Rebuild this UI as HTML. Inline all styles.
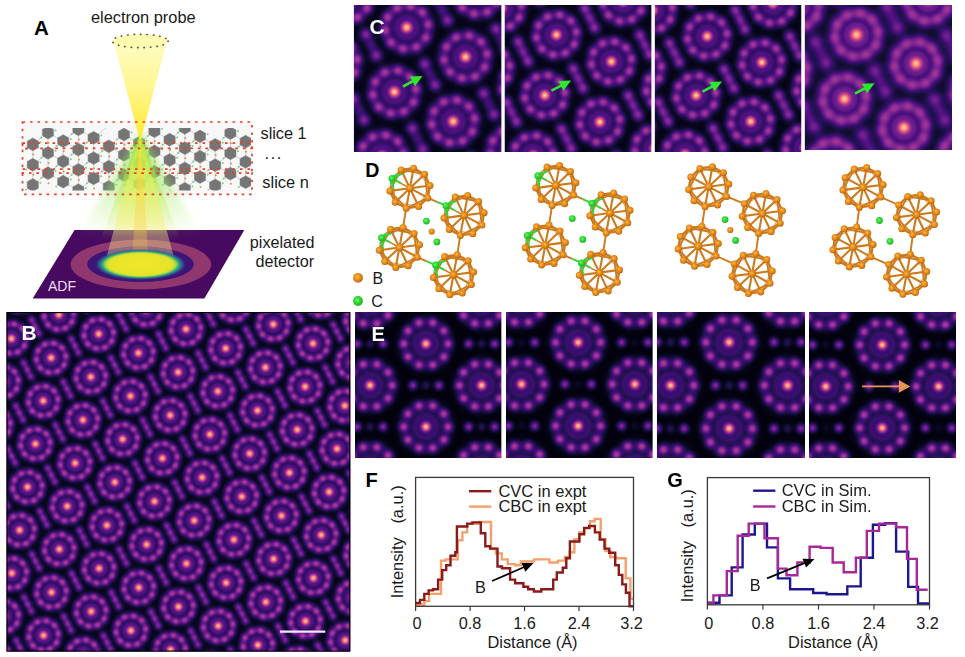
<!DOCTYPE html>
<html><head><meta charset="utf-8"><title>figure</title>
<style>
html,body{margin:0;padding:0;background:#fff;}
svg{display:block}
text{font-family:"Liberation Sans",sans-serif;}
</style></head><body>
<svg width="965" height="657" viewBox="0 0 965 657">
<defs>
<filter id="mg" color-interpolation-filters="sRGB" x="0" y="0" width="100%" height="100%" filterUnits="objectBoundingBox"><feComponentTransfer><feFuncR type="table" tableValues="0.001 0.008 0.019 0.040 0.061 0.088 0.113 0.147 0.178 0.219 0.252 0.285 0.323 0.354 0.390 0.421 0.457 0.488 0.525 0.557 0.588 0.626 0.658 0.697 0.729 0.767 0.799 0.835 0.863 0.890 0.918 0.937 0.956 0.968 0.978 0.985 0.990 0.993 0.995 0.997 0.997 0.997 0.996 0.995 0.993 0.991 0.989 0.987"/><feFuncG type="table" tableValues="0.000 0.006 0.016 0.031 0.045 0.058 0.065 0.069 0.067 0.061 0.059 0.063 0.074 0.085 0.100 0.115 0.132 0.146 0.162 0.176 0.188 0.203 0.216 0.231 0.243 0.257 0.271 0.289 0.307 0.329 0.359 0.386 0.421 0.451 0.490 0.522 0.565 0.602 0.639 0.683 0.719 0.762 0.798 0.841 0.877 0.920 0.956 0.991"/><feFuncB type="table" tableValues="0.014 0.045 0.085 0.134 0.176 0.230 0.277 0.334 0.379 0.425 0.458 0.484 0.506 0.522 0.536 0.546 0.556 0.564 0.570 0.576 0.580 0.582 0.577 0.567 0.558 0.544 0.531 0.514 0.499 0.483 0.466 0.455 0.447 0.446 0.452 0.463 0.481 0.501 0.523 0.553 0.580 0.615 0.646 0.672 0.688 0.712 0.731 0.750"/></feComponentTransfer></filter>
<radialGradient id="g"><stop offset="0.000" stop-color="#fff" stop-opacity="1.000"/><stop offset="0.083" stop-color="#fff" stop-opacity="0.969"/><stop offset="0.167" stop-color="#fff" stop-opacity="0.882"/><stop offset="0.250" stop-color="#fff" stop-opacity="0.755"/><stop offset="0.333" stop-color="#fff" stop-opacity="0.607"/><stop offset="0.417" stop-color="#fff" stop-opacity="0.458"/><stop offset="0.500" stop-color="#fff" stop-opacity="0.325"/><stop offset="0.583" stop-color="#fff" stop-opacity="0.216"/><stop offset="0.667" stop-color="#fff" stop-opacity="0.135"/><stop offset="0.750" stop-color="#fff" stop-opacity="0.080"/><stop offset="0.833" stop-color="#fff" stop-opacity="0.044"/><stop offset="0.917" stop-color="#fff" stop-opacity="0.023"/><stop offset="1.000" stop-color="#fff" stop-opacity="0.000"/></radialGradient>
<radialGradient id="rg"><stop offset="0.000" stop-color="#fff" stop-opacity="0.000"/><stop offset="0.042" stop-color="#fff" stop-opacity="0.000"/><stop offset="0.083" stop-color="#fff" stop-opacity="0.000"/><stop offset="0.125" stop-color="#fff" stop-opacity="0.000"/><stop offset="0.167" stop-color="#fff" stop-opacity="0.001"/><stop offset="0.208" stop-color="#fff" stop-opacity="0.002"/><stop offset="0.250" stop-color="#fff" stop-opacity="0.006"/><stop offset="0.292" stop-color="#fff" stop-opacity="0.017"/><stop offset="0.333" stop-color="#fff" stop-opacity="0.043"/><stop offset="0.375" stop-color="#fff" stop-opacity="0.096"/><stop offset="0.417" stop-color="#fff" stop-opacity="0.191"/><stop offset="0.458" stop-color="#fff" stop-opacity="0.337"/><stop offset="0.500" stop-color="#fff" stop-opacity="0.527"/><stop offset="0.542" stop-color="#fff" stop-opacity="0.734"/><stop offset="0.583" stop-color="#fff" stop-opacity="0.907"/><stop offset="0.625" stop-color="#fff" stop-opacity="0.995"/><stop offset="0.667" stop-color="#fff" stop-opacity="0.970"/><stop offset="0.708" stop-color="#fff" stop-opacity="0.840"/><stop offset="0.750" stop-color="#fff" stop-opacity="0.646"/><stop offset="0.792" stop-color="#fff" stop-opacity="0.442"/><stop offset="0.833" stop-color="#fff" stop-opacity="0.268"/><stop offset="0.875" stop-color="#fff" stop-opacity="0.144"/><stop offset="0.917" stop-color="#fff" stop-opacity="0.069"/><stop offset="0.958" stop-color="#fff" stop-opacity="0.029"/><stop offset="1.000" stop-color="#fff" stop-opacity="0.000"/></radialGradient>
<g id="kB"><circle cx="0" cy="0" r="22.5" fill="url(#g)" opacity="0.10"/><circle cx="0" cy="0" r="23.2" fill="url(#rg)" opacity="0.21"/><circle cx="0" cy="0" r="11.6" fill="url(#rg)" opacity="0.12"/><circle cx="2.8" cy="-14.5" r="6.6" fill="url(#g)" opacity="0.31"/><circle cx="10.8" cy="-10.1" r="6.6" fill="url(#g)" opacity="0.31"/><circle cx="14.7" cy="-1.8" r="6.6" fill="url(#g)" opacity="0.31"/><circle cx="12.9" cy="7.2" r="6.6" fill="url(#g)" opacity="0.31"/><circle cx="6.3" cy="13.4" r="6.6" fill="url(#g)" opacity="0.31"/><circle cx="-2.8" cy="14.5" r="6.6" fill="url(#g)" opacity="0.31"/><circle cx="-10.8" cy="10.1" r="6.6" fill="url(#g)" opacity="0.31"/><circle cx="-14.7" cy="1.8" r="6.6" fill="url(#g)" opacity="0.31"/><circle cx="-12.9" cy="-7.2" r="6.6" fill="url(#g)" opacity="0.31"/><circle cx="-6.3" cy="-13.4" r="6.6" fill="url(#g)" opacity="0.31"/><circle cx="0" cy="0" r="8.7" fill="url(#g)" opacity="0.86"/></g>
<g id="hB"><ellipse cx="0" cy="0" rx="19.9" ry="6.6" fill="url(#g)" opacity="0.18" transform="translate(0 0) rotate(62.9)"/><circle cx="-3.6" cy="-6.9" r="7.8" fill="url(#g)" opacity="0.27"/><circle cx="3.6" cy="6.9" r="7.8" fill="url(#g)" opacity="0.27"/><circle cx="0" cy="0" r="7.8" fill="url(#g)" opacity="0.23"/></g>
<g id="kC0"><circle cx="0" cy="0" r="35.9" fill="url(#g)" opacity="0.12"/><circle cx="0" cy="0" r="34" fill="url(#rg)" opacity="0.14"/><circle cx="0" cy="0" r="17" fill="url(#rg)" opacity="0.13"/><circle cx="3.8" cy="-21.3" r="10.3" fill="url(#g)" opacity="0.34"/><circle cx="15.6" cy="-15.1" r="10.3" fill="url(#g)" opacity="0.34"/><circle cx="21.5" cy="-3" r="10.3" fill="url(#g)" opacity="0.34"/><circle cx="19.1" cy="10.2" r="10.3" fill="url(#g)" opacity="0.34"/><circle cx="9.5" cy="19.5" r="10.3" fill="url(#g)" opacity="0.34"/><circle cx="-3.8" cy="21.3" r="10.3" fill="url(#g)" opacity="0.34"/><circle cx="-15.6" cy="15.1" r="10.3" fill="url(#g)" opacity="0.34"/><circle cx="-21.5" cy="3" r="10.3" fill="url(#g)" opacity="0.34"/><circle cx="-19.1" cy="-10.2" r="10.3" fill="url(#g)" opacity="0.34"/><circle cx="-9.5" cy="-19.5" r="10.3" fill="url(#g)" opacity="0.34"/><circle cx="0" cy="0" r="11.2" fill="url(#g)" opacity="0.88"/></g>
<g id="hC0"><ellipse cx="0" cy="0" rx="30.1" ry="10.3" fill="url(#g)" opacity="0.08" transform="translate(0 0) rotate(63.7)"/><circle cx="-5.2" cy="-10.6" r="12.1" fill="url(#g)" opacity="0.32"/><circle cx="5.2" cy="10.6" r="12.1" fill="url(#g)" opacity="0.32"/><circle cx="0" cy="0" r="12.1" fill="url(#g)" opacity="0.12"/></g>
<g id="kC1"><circle cx="0" cy="0" r="33.4" fill="url(#g)" opacity="0.12"/><circle cx="0" cy="0" r="31.7" fill="url(#rg)" opacity="0.14"/><circle cx="0" cy="0" r="15.8" fill="url(#rg)" opacity="0.13"/><circle cx="3.5" cy="-19.9" r="9.6" fill="url(#g)" opacity="0.34"/><circle cx="14.5" cy="-14" r="9.6" fill="url(#g)" opacity="0.34"/><circle cx="20" cy="-2.8" r="9.6" fill="url(#g)" opacity="0.34"/><circle cx="17.8" cy="9.5" r="9.6" fill="url(#g)" opacity="0.34"/><circle cx="8.8" cy="18.1" r="9.6" fill="url(#g)" opacity="0.34"/><circle cx="-3.5" cy="19.9" r="9.6" fill="url(#g)" opacity="0.34"/><circle cx="-14.5" cy="14" r="9.6" fill="url(#g)" opacity="0.34"/><circle cx="-20" cy="2.8" r="9.6" fill="url(#g)" opacity="0.34"/><circle cx="-17.8" cy="-9.5" r="9.6" fill="url(#g)" opacity="0.34"/><circle cx="-8.8" cy="-18.1" r="9.6" fill="url(#g)" opacity="0.34"/><circle cx="0" cy="0" r="10.4" fill="url(#g)" opacity="0.88"/></g>
<g id="hC1"><ellipse cx="0" cy="0" rx="28" ry="9.6" fill="url(#g)" opacity="0.16" transform="translate(0 0) rotate(63.5)"/><circle cx="-4.9" cy="-9.8" r="11.3" fill="url(#g)" opacity="0.32"/><circle cx="4.9" cy="9.8" r="11.3" fill="url(#g)" opacity="0.32"/><circle cx="0" cy="0" r="11.3" fill="url(#g)" opacity="0.20"/></g>
<g id="kC2"><circle cx="0" cy="0" r="33" fill="url(#g)" opacity="0.12"/><circle cx="0" cy="0" r="31.3" fill="url(#rg)" opacity="0.14"/><circle cx="0" cy="0" r="15.7" fill="url(#rg)" opacity="0.13"/><circle cx="3.5" cy="-19.6" r="9.5" fill="url(#g)" opacity="0.34"/><circle cx="14.3" cy="-13.9" r="9.5" fill="url(#g)" opacity="0.34"/><circle cx="19.7" cy="-2.8" r="9.5" fill="url(#g)" opacity="0.34"/><circle cx="17.6" cy="9.4" r="9.5" fill="url(#g)" opacity="0.34"/><circle cx="8.7" cy="17.9" r="9.5" fill="url(#g)" opacity="0.34"/><circle cx="-3.5" cy="19.6" r="9.5" fill="url(#g)" opacity="0.34"/><circle cx="-14.3" cy="13.9" r="9.5" fill="url(#g)" opacity="0.34"/><circle cx="-19.7" cy="2.8" r="9.5" fill="url(#g)" opacity="0.34"/><circle cx="-17.6" cy="-9.4" r="9.5" fill="url(#g)" opacity="0.34"/><circle cx="-8.7" cy="-17.9" r="9.5" fill="url(#g)" opacity="0.34"/><circle cx="0" cy="0" r="10.3" fill="url(#g)" opacity="0.88"/></g>
<g id="hC2"><ellipse cx="0" cy="0" rx="27.7" ry="9.5" fill="url(#g)" opacity="0.16" transform="translate(0 0) rotate(63)"/><circle cx="-4.9" cy="-9.7" r="11.1" fill="url(#g)" opacity="0.32"/><circle cx="4.9" cy="9.7" r="11.1" fill="url(#g)" opacity="0.32"/><circle cx="0" cy="0" r="11.1" fill="url(#g)" opacity="0.22"/></g>
<g id="kC3"><circle cx="0" cy="0" r="36" fill="url(#g)" opacity="0.12"/><circle cx="0" cy="0" r="34.2" fill="url(#rg)" opacity="0.20"/><circle cx="0" cy="0" r="17.1" fill="url(#rg)" opacity="0.13"/><circle cx="3.8" cy="-21.4" r="12.4" fill="url(#g)" opacity="0.24"/><circle cx="15.7" cy="-15.1" r="12.4" fill="url(#g)" opacity="0.24"/><circle cx="21.6" cy="-3" r="12.4" fill="url(#g)" opacity="0.24"/><circle cx="19.2" cy="10.2" r="12.4" fill="url(#g)" opacity="0.24"/><circle cx="9.5" cy="19.6" r="12.4" fill="url(#g)" opacity="0.24"/><circle cx="-3.8" cy="21.4" r="12.4" fill="url(#g)" opacity="0.24"/><circle cx="-15.7" cy="15.1" r="12.4" fill="url(#g)" opacity="0.24"/><circle cx="-21.6" cy="3" r="12.4" fill="url(#g)" opacity="0.24"/><circle cx="-19.2" cy="-10.2" r="12.4" fill="url(#g)" opacity="0.24"/><circle cx="-9.5" cy="-19.6" r="12.4" fill="url(#g)" opacity="0.24"/><circle cx="0" cy="0" r="13.5" fill="url(#g)" opacity="0.86"/></g>
<g id="hC3"><ellipse cx="0" cy="0" rx="30.2" ry="12.4" fill="url(#g)" opacity="0.08" transform="translate(0 0) rotate(62.9)"/><circle cx="-5.4" cy="-10.6" r="14.6" fill="url(#g)" opacity="0.25"/><circle cx="5.4" cy="10.6" r="14.6" fill="url(#g)" opacity="0.25"/><circle cx="0" cy="0" r="14.6" fill="url(#g)" opacity="0.10"/></g>
<g id="kE0"><circle cx="0" cy="0" r="36" fill="url(#g)" opacity="0.17"/><circle cx="0" cy="0" r="34.9" fill="url(#rg)" opacity="0.10"/><circle cx="0" cy="0" r="17.4" fill="url(#rg)" opacity="0.08"/><circle cx="6.9" cy="-21.1" r="9" fill="url(#g)" opacity="0.40"/><circle cx="18" cy="-13" r="9" fill="url(#g)" opacity="0.40"/><circle cx="22.2" cy="-0" r="9" fill="url(#g)" opacity="0.40"/><circle cx="18" cy="13" r="9" fill="url(#g)" opacity="0.40"/><circle cx="6.9" cy="21.1" r="9" fill="url(#g)" opacity="0.40"/><circle cx="-6.9" cy="21.1" r="9" fill="url(#g)" opacity="0.40"/><circle cx="-18" cy="13" r="9" fill="url(#g)" opacity="0.40"/><circle cx="-22.2" cy="0" r="9" fill="url(#g)" opacity="0.40"/><circle cx="-18" cy="-13" r="9" fill="url(#g)" opacity="0.40"/><circle cx="-6.9" cy="-21.1" r="9" fill="url(#g)" opacity="0.40"/><circle cx="0" cy="0" r="8.7" fill="url(#g)" opacity="0.87"/></g>
<g id="hE0"><circle cx="-13" cy="-0" r="9" fill="url(#g)" opacity="0.36"/><circle cx="13" cy="0" r="9" fill="url(#g)" opacity="0.36"/><circle cx="0" cy="0" r="9" fill="url(#g)" opacity="0.13"/></g>
<g id="kE1"><circle cx="0" cy="0" r="36.6" fill="url(#g)" opacity="0.17"/><circle cx="0" cy="0" r="35.4" fill="url(#rg)" opacity="0.10"/><circle cx="0" cy="0" r="17.7" fill="url(#rg)" opacity="0.08"/><circle cx="7" cy="-21.5" r="9.1" fill="url(#g)" opacity="0.40"/><circle cx="18.3" cy="-13.3" r="9.1" fill="url(#g)" opacity="0.40"/><circle cx="22.6" cy="-0" r="9.1" fill="url(#g)" opacity="0.40"/><circle cx="18.3" cy="13.3" r="9.1" fill="url(#g)" opacity="0.40"/><circle cx="7" cy="21.5" r="9.1" fill="url(#g)" opacity="0.40"/><circle cx="-7" cy="21.5" r="9.1" fill="url(#g)" opacity="0.40"/><circle cx="-18.3" cy="13.3" r="9.1" fill="url(#g)" opacity="0.40"/><circle cx="-22.6" cy="0" r="9.1" fill="url(#g)" opacity="0.40"/><circle cx="-18.3" cy="-13.3" r="9.1" fill="url(#g)" opacity="0.40"/><circle cx="-7" cy="-21.5" r="9.1" fill="url(#g)" opacity="0.40"/><circle cx="0" cy="0" r="8.8" fill="url(#g)" opacity="0.87"/></g>
<g id="hE1"><circle cx="-13.2" cy="-0" r="9.1" fill="url(#g)" opacity="0.36"/><circle cx="13.2" cy="0" r="9.1" fill="url(#g)" opacity="0.36"/><circle cx="0" cy="0" r="9.1" fill="url(#g)" opacity="0.05"/></g>
<g id="kE2"><circle cx="0" cy="0" r="37.8" fill="url(#g)" opacity="0.17"/><circle cx="0" cy="0" r="36.6" fill="url(#rg)" opacity="0.10"/><circle cx="0" cy="0" r="18.3" fill="url(#rg)" opacity="0.08"/><circle cx="7.2" cy="-22.2" r="9.4" fill="url(#g)" opacity="0.40"/><circle cx="18.8" cy="-13.7" r="9.4" fill="url(#g)" opacity="0.40"/><circle cx="23.3" cy="-0" r="9.4" fill="url(#g)" opacity="0.40"/><circle cx="18.8" cy="13.7" r="9.4" fill="url(#g)" opacity="0.40"/><circle cx="7.2" cy="22.2" r="9.4" fill="url(#g)" opacity="0.40"/><circle cx="-7.2" cy="22.2" r="9.4" fill="url(#g)" opacity="0.40"/><circle cx="-18.8" cy="13.7" r="9.4" fill="url(#g)" opacity="0.40"/><circle cx="-23.3" cy="0" r="9.4" fill="url(#g)" opacity="0.40"/><circle cx="-18.8" cy="-13.7" r="9.4" fill="url(#g)" opacity="0.40"/><circle cx="-7.2" cy="-22.2" r="9.4" fill="url(#g)" opacity="0.40"/><circle cx="0" cy="0" r="9.1" fill="url(#g)" opacity="0.87"/></g>
<g id="hE2"><circle cx="-13.6" cy="-0" r="9.4" fill="url(#g)" opacity="0.36"/><circle cx="13.6" cy="0" r="9.4" fill="url(#g)" opacity="0.36"/><circle cx="0" cy="0" r="9.4" fill="url(#g)" opacity="0.13"/></g>
<g id="kE3"><circle cx="0" cy="0" r="36.5" fill="url(#g)" opacity="0.17"/><circle cx="0" cy="0" r="35.3" fill="url(#rg)" opacity="0.10"/><circle cx="0" cy="0" r="17.6" fill="url(#rg)" opacity="0.08"/><circle cx="6.9" cy="-21.4" r="9.1" fill="url(#g)" opacity="0.40"/><circle cx="18.2" cy="-13.2" r="9.1" fill="url(#g)" opacity="0.40"/><circle cx="22.5" cy="-0" r="9.1" fill="url(#g)" opacity="0.40"/><circle cx="18.2" cy="13.2" r="9.1" fill="url(#g)" opacity="0.40"/><circle cx="6.9" cy="21.4" r="9.1" fill="url(#g)" opacity="0.40"/><circle cx="-6.9" cy="21.4" r="9.1" fill="url(#g)" opacity="0.40"/><circle cx="-18.2" cy="13.2" r="9.1" fill="url(#g)" opacity="0.40"/><circle cx="-22.5" cy="0" r="9.1" fill="url(#g)" opacity="0.40"/><circle cx="-18.2" cy="-13.2" r="9.1" fill="url(#g)" opacity="0.40"/><circle cx="-6.9" cy="-21.4" r="9.1" fill="url(#g)" opacity="0.40"/><circle cx="0" cy="0" r="8.8" fill="url(#g)" opacity="0.87"/></g>
<g id="hE3"><circle cx="-13.2" cy="-0" r="9.1" fill="url(#g)" opacity="0.36"/><circle cx="13.2" cy="0" r="9.1" fill="url(#g)" opacity="0.36"/><circle cx="0" cy="0" r="9.1" fill="url(#g)" opacity="0.05"/></g>
<linearGradient id="cone" x1="0" y1="0" x2="0" y2="1"><stop offset="0" stop-color="#fffcc4"/><stop offset="0.5" stop-color="#fff68c"/><stop offset="1" stop-color="#ffea2e"/></linearGradient>
<linearGradient id="gwide" gradientUnits="userSpaceOnUse" x1="0" y1="134" x2="0" y2="236"><stop offset="0" stop-color="#7fe03c" stop-opacity="0.7"/><stop offset="0.55" stop-color="#9be85a" stop-opacity="0.4"/><stop offset="1" stop-color="#b4f07a" stop-opacity="0"/></linearGradient>
<linearGradient id="gmid" gradientUnits="userSpaceOnUse" x1="0" y1="134" x2="0" y2="240"><stop offset="0" stop-color="#8fe030" stop-opacity="0.75"/><stop offset="0.6" stop-color="#c2ec50" stop-opacity="0.45"/><stop offset="1" stop-color="#d8f060" stop-opacity="0"/></linearGradient>
<linearGradient id="gyel" gradientUnits="userSpaceOnUse" x1="0" y1="134" x2="0" y2="264"><stop offset="0" stop-color="#e4ec3a" stop-opacity="0.45"/><stop offset="0.45" stop-color="#eef05a" stop-opacity="0.5"/><stop offset="0.7" stop-color="#f6f07a" stop-opacity="0.5"/><stop offset="0.78" stop-color="#fff38a" stop-opacity="0.4"/><stop offset="1" stop-color="#fff38a" stop-opacity="0.38"/></linearGradient>
<linearGradient id="gcen" gradientUnits="userSpaceOnUse" x1="0" y1="134" x2="0" y2="264"><stop offset="0" stop-color="#ffe23a" stop-opacity="0.8"/><stop offset="0.7" stop-color="#f6d24a" stop-opacity="0.38"/><stop offset="1" stop-color="#f0b050" stop-opacity="0.25"/></linearGradient>
<radialGradient id="disc"><stop offset="0" stop-color="#f2e829"/><stop offset="0.7" stop-color="#e4e32a"/><stop offset="0.77" stop-color="#9fd645"/><stop offset="0.82" stop-color="#3bb37a"/><stop offset="0.87" stop-color="#24868e" stop-opacity="0.95"/><stop offset="0.93" stop-color="#3b5a8c" stop-opacity="0.6"/><stop offset="1" stop-color="#45207a" stop-opacity="0"/></radialGradient>
<filter id="bl" x="-20%" y="-20%" width="140%" height="140%"><feGaussianBlur stdDeviation="3"/></filter>
<filter id="bl1" x="-20%" y="-20%" width="140%" height="140%"><feGaussianBlur stdDeviation="0.7"/></filter>
<radialGradient id="ob" cx="0.42" cy="0.4" r="0.6"><stop offset="0" stop-color="#ffbf48"/><stop offset="0.4" stop-color="#ee931f"/><stop offset="0.8" stop-color="#d37a14"/><stop offset="1" stop-color="#ad5e0a"/></radialGradient>
<radialGradient id="gb" cx="0.42" cy="0.4" r="0.6"><stop offset="0" stop-color="#6dfa62"/><stop offset="0.5" stop-color="#2fd934"/><stop offset="1" stop-color="#1fb028"/></radialGradient>
</defs>
<rect width="965" height="657" fill="#fff"/>
<svg x="6.5" y="312" width="343.8" height="339.6" viewBox="6.5 312 343.8 339.6"><g filter="url(#mg)"><rect x="6.5" y="312" width="343.8" height="339.6" fill="rgb(14,14,14)"/><use href="#hB" x="-4.6" y="307.5"/><use href="#hB" x="-12.4" y="350.6"/><use href="#kB" x="19.2" y="295.5"/><use href="#hB" x="35.2" y="326.7"/><use href="#kB" x="11.4" y="338.6"/><use href="#hB" x="27.3" y="369.7"/><use href="#kB" x="3.5" y="381.7"/><use href="#hB" x="19.4" y="412.8"/><use href="#kB" x="-4.4" y="424.8"/><use href="#hB" x="11.6" y="455.9"/><use href="#kB" x="-12.2" y="467.8"/><use href="#hB" x="3.7" y="499"/><use href="#hB" x="-4.2" y="542"/><use href="#hB" x="-12" y="585.1"/><use href="#hB" x="82.7" y="302.7"/><use href="#kB" x="58.9" y="314.7"/><use href="#hB" x="74.9" y="345.8"/><use href="#kB" x="51.1" y="357.8"/><use href="#hB" x="67" y="388.9"/><use href="#kB" x="43.2" y="400.9"/><use href="#hB" x="59.1" y="432"/><use href="#kB" x="35.4" y="443.9"/><use href="#hB" x="51.3" y="475"/><use href="#kB" x="27.5" y="487"/><use href="#hB" x="43.4" y="518.1"/><use href="#kB" x="19.6" y="530.1"/><use href="#hB" x="35.5" y="561.2"/><use href="#kB" x="11.8" y="573.2"/><use href="#hB" x="27.7" y="604.3"/><use href="#kB" x="3.9" y="616.2"/><use href="#hB" x="19.8" y="647.4"/><use href="#kB" x="-4" y="659.3"/><use href="#kB" x="106.5" y="290.8"/><use href="#hB" x="122.4" y="321.9"/><use href="#kB" x="98.7" y="333.9"/><use href="#hB" x="114.6" y="365"/><use href="#kB" x="90.8" y="376.9"/><use href="#hB" x="106.7" y="408.1"/><use href="#kB" x="82.9" y="420"/><use href="#hB" x="98.9" y="451.1"/><use href="#kB" x="75.1" y="463.1"/><use href="#hB" x="91" y="494.2"/><use href="#kB" x="67.2" y="506.2"/><use href="#hB" x="83.1" y="537.3"/><use href="#kB" x="59.3" y="549.2"/><use href="#hB" x="75.3" y="580.4"/><use href="#kB" x="51.5" y="592.3"/><use href="#hB" x="67.4" y="623.4"/><use href="#kB" x="43.6" y="635.4"/><use href="#hB" x="59.5" y="666.5"/><use href="#hB" x="170" y="298"/><use href="#kB" x="146.2" y="309.9"/><use href="#hB" x="162.2" y="341.1"/><use href="#kB" x="138.4" y="353"/><use href="#hB" x="154.3" y="384.1"/><use href="#kB" x="130.5" y="396.1"/><use href="#hB" x="146.4" y="427.2"/><use href="#kB" x="122.6" y="439.2"/><use href="#hB" x="138.6" y="470.3"/><use href="#kB" x="114.8" y="482.2"/><use href="#hB" x="130.7" y="513.4"/><use href="#kB" x="106.9" y="525.3"/><use href="#hB" x="122.8" y="556.4"/><use href="#kB" x="99.1" y="568.4"/><use href="#hB" x="115" y="599.5"/><use href="#kB" x="91.2" y="611.5"/><use href="#hB" x="107.1" y="642.6"/><use href="#kB" x="83.3" y="654.6"/><use href="#hB" x="209.7" y="317.1"/><use href="#kB" x="186" y="329.1"/><use href="#hB" x="201.9" y="360.2"/><use href="#kB" x="178.1" y="372.2"/><use href="#hB" x="194" y="403.3"/><use href="#kB" x="170.2" y="415.3"/><use href="#hB" x="186.2" y="446.4"/><use href="#kB" x="162.4" y="458.3"/><use href="#hB" x="178.3" y="489.4"/><use href="#kB" x="154.5" y="501.4"/><use href="#hB" x="170.4" y="532.5"/><use href="#kB" x="146.6" y="544.5"/><use href="#hB" x="162.6" y="575.6"/><use href="#kB" x="138.8" y="587.6"/><use href="#hB" x="154.7" y="618.7"/><use href="#kB" x="130.9" y="630.6"/><use href="#hB" x="146.8" y="661.8"/><use href="#kB" x="123" y="673.7"/><use href="#hB" x="257.3" y="293.2"/><use href="#kB" x="233.5" y="305.2"/><use href="#hB" x="249.5" y="336.3"/><use href="#kB" x="225.7" y="348.3"/><use href="#hB" x="241.6" y="379.4"/><use href="#kB" x="217.8" y="391.3"/><use href="#hB" x="233.7" y="422.5"/><use href="#kB" x="209.9" y="434.4"/><use href="#hB" x="225.9" y="465.5"/><use href="#kB" x="202.1" y="477.5"/><use href="#hB" x="218" y="508.6"/><use href="#kB" x="194.2" y="520.6"/><use href="#hB" x="210.1" y="551.7"/><use href="#kB" x="186.4" y="563.6"/><use href="#hB" x="202.3" y="594.8"/><use href="#kB" x="178.5" y="606.7"/><use href="#hB" x="194.4" y="637.8"/><use href="#kB" x="170.6" y="649.8"/><use href="#hB" x="297" y="312.4"/><use href="#kB" x="273.3" y="324.3"/><use href="#hB" x="289.2" y="355.5"/><use href="#kB" x="265.4" y="367.4"/><use href="#hB" x="281.3" y="398.5"/><use href="#kB" x="257.5" y="410.5"/><use href="#hB" x="273.4" y="441.6"/><use href="#kB" x="249.7" y="453.6"/><use href="#hB" x="265.6" y="484.7"/><use href="#kB" x="241.8" y="496.6"/><use href="#hB" x="257.7" y="527.8"/><use href="#kB" x="233.9" y="539.7"/><use href="#hB" x="249.9" y="570.8"/><use href="#kB" x="226.1" y="582.8"/><use href="#hB" x="242" y="613.9"/><use href="#kB" x="218.2" y="625.9"/><use href="#hB" x="234.1" y="657"/><use href="#kB" x="210.3" y="669"/><use href="#kB" x="320.8" y="300.4"/><use href="#hB" x="336.8" y="331.5"/><use href="#kB" x="313" y="343.5"/><use href="#hB" x="328.9" y="374.6"/><use href="#kB" x="305.1" y="386.6"/><use href="#hB" x="321" y="417.7"/><use href="#kB" x="297.2" y="429.7"/><use href="#hB" x="313.2" y="460.8"/><use href="#kB" x="289.4" y="472.7"/><use href="#hB" x="305.3" y="503.8"/><use href="#kB" x="281.5" y="515.8"/><use href="#hB" x="297.4" y="546.9"/><use href="#kB" x="273.6" y="558.9"/><use href="#hB" x="289.6" y="590"/><use href="#kB" x="265.8" y="602"/><use href="#hB" x="281.7" y="633.1"/><use href="#kB" x="257.9" y="645"/><use href="#kB" x="360.5" y="319.6"/><use href="#kB" x="352.7" y="362.7"/><use href="#hB" x="368.6" y="393.8"/><use href="#kB" x="344.8" y="405.7"/><use href="#hB" x="360.7" y="436.9"/><use href="#kB" x="337" y="448.8"/><use href="#hB" x="352.9" y="479.9"/><use href="#kB" x="329.1" y="491.9"/><use href="#hB" x="345" y="523"/><use href="#kB" x="321.2" y="535"/><use href="#hB" x="337.2" y="566.1"/><use href="#kB" x="313.4" y="578"/><use href="#hB" x="329.3" y="609.2"/><use href="#kB" x="305.5" y="621.1"/><use href="#hB" x="321.4" y="652.2"/><use href="#kB" x="297.6" y="664.2"/><use href="#kB" x="368.8" y="511"/><use href="#kB" x="360.9" y="554.1"/><use href="#kB" x="353.1" y="597.2"/><use href="#hB" x="369" y="628.3"/><use href="#kB" x="345.2" y="640.3"/><use href="#hB" x="361.1" y="671.4"/></g></svg>
<svg x="353.7" y="5" width="147.9" height="147" viewBox="353.7 5 147.9 147"><g filter="url(#mg)"><rect x="353.7" y="5" width="147.9" height="147" fill="rgb(11,11,11)"/><use href="#hC0" x="383.4" y="-19.6"/><use href="#kC0" x="347.9" y="-2.1"/><use href="#hC0" x="371.1" y="44.9"/><use href="#kC0" x="335.6" y="62.4"/><use href="#hC0" x="358.8" y="109.4"/><use href="#kC0" x="323.3" y="126.9"/><use href="#hC0" x="346.5" y="173.9"/><use href="#hC0" x="442.2" y="9.9"/><use href="#kC0" x="406.7" y="27.4"/><use href="#hC0" x="429.9" y="74.4"/><use href="#kC0" x="394.4" y="91.9"/><use href="#hC0" x="417.6" y="138.9"/><use href="#kC0" x="382.1" y="156.4"/><use href="#hC0" x="513.4" y="-25.1"/><use href="#kC0" x="477.8" y="-7.6"/><use href="#hC0" x="501.1" y="39.4"/><use href="#kC0" x="465.5" y="56.9"/><use href="#hC0" x="488.8" y="103.9"/><use href="#kC0" x="453.2" y="121.4"/><use href="#hC0" x="476.4" y="168.4"/><use href="#kC0" x="440.9" y="185.9"/><use href="#kC0" x="524.3" y="86.4"/><use href="#kC0" x="512" y="150.9"/></g></svg>
<svg x="504.5" y="5" width="147.1" height="147" viewBox="504.5 5 147.1 147"><g filter="url(#mg)"><rect x="504.5" y="5" width="147.1" height="147" fill="rgb(11,11,11)"/><use href="#hC1" x="534.7" y="-8.8"/><use href="#kC1" x="501.4" y="8"/><use href="#hC1" x="523.1" y="51.6"/><use href="#kC1" x="489.8" y="68.4"/><use href="#hC1" x="511.5" y="112"/><use href="#kC1" x="478.2" y="128.8"/><use href="#hC1" x="499.9" y="172.4"/><use href="#kC1" x="568" y="-25.6"/><use href="#hC1" x="589.7" y="18"/><use href="#kC1" x="556.4" y="34.8"/><use href="#hC1" x="578.1" y="78.4"/><use href="#kC1" x="544.8" y="95.2"/><use href="#hC1" x="566.5" y="138.8"/><use href="#kC1" x="533.2" y="155.6"/><use href="#hC1" x="656.3" y="-15.6"/><use href="#kC1" x="623" y="1.2"/><use href="#hC1" x="644.7" y="44.8"/><use href="#kC1" x="611.4" y="61.6"/><use href="#hC1" x="633.1" y="105.2"/><use href="#kC1" x="599.8" y="122"/><use href="#hC1" x="621.5" y="165.6"/><use href="#kC1" x="588.2" y="182.4"/><use href="#kC1" x="678" y="28"/><use href="#kC1" x="666.4" y="88.4"/><use href="#kC1" x="654.8" y="148.8"/></g></svg>
<svg x="654.6" y="5" width="146.9" height="147" viewBox="654.6 5 146.9 147"><g filter="url(#mg)"><rect x="654.6" y="5" width="146.9" height="147" fill="rgb(11,11,11)"/><use href="#hC2" x="685.5" y="-6.3"/><use href="#kC2" x="652.6" y="10.2"/><use href="#hC2" x="674.4" y="52.8"/><use href="#kC2" x="641.5" y="69.3"/><use href="#hC2" x="663.2" y="111.9"/><use href="#kC2" x="630.4" y="128.4"/><use href="#hC2" x="652.1" y="171"/><use href="#kC2" x="718.3" y="-22.8"/><use href="#hC2" x="740.1" y="19.8"/><use href="#kC2" x="707.2" y="36.3"/><use href="#hC2" x="729" y="78.9"/><use href="#kC2" x="696.1" y="95.4"/><use href="#hC2" x="717.9" y="138"/><use href="#kC2" x="685" y="154.5"/><use href="#hC2" x="805.8" y="-13.2"/><use href="#kC2" x="772.9" y="3.3"/><use href="#hC2" x="794.7" y="45.9"/><use href="#kC2" x="761.8" y="62.4"/><use href="#hC2" x="783.6" y="105"/><use href="#kC2" x="750.7" y="121.5"/><use href="#hC2" x="772.5" y="164.1"/><use href="#kC2" x="739.6" y="180.6"/><use href="#kC2" x="827.5" y="29.4"/><use href="#kC2" x="816.4" y="88.5"/><use href="#kC2" x="805.3" y="147.6"/></g></svg>
<svg x="804.6" y="5" width="147.4" height="145" viewBox="804.6 5 147.4 145"><g filter="url(#mg)"><rect x="804.6" y="5" width="147.4" height="145" fill="rgb(22,22,22)"/><use href="#hC3" x="832.8" y="-11.6"/><use href="#kC3" x="797" y="6.1"/><use href="#hC3" x="820.8" y="52.5"/><use href="#kC3" x="785" y="70.2"/><use href="#hC3" x="808.8" y="116.6"/><use href="#kC3" x="773" y="134.3"/><use href="#hC3" x="796.8" y="180.7"/><use href="#kC3" x="868.5" y="-29.3"/><use href="#hC3" x="892.2" y="17.1"/><use href="#kC3" x="856.5" y="34.8"/><use href="#hC3" x="880.2" y="81.2"/><use href="#kC3" x="844.5" y="98.9"/><use href="#hC3" x="868.2" y="145.3"/><use href="#kC3" x="832.5" y="163"/><use href="#hC3" x="963.8" y="-18.3"/><use href="#kC3" x="928" y="-0.6"/><use href="#hC3" x="951.8" y="45.8"/><use href="#kC3" x="916" y="63.5"/><use href="#hC3" x="939.8" y="109.9"/><use href="#kC3" x="904" y="127.6"/><use href="#hC3" x="927.8" y="174"/><use href="#kC3" x="987.5" y="28.1"/><use href="#kC3" x="975.5" y="92.2"/><use href="#kC3" x="963.5" y="156.3"/></g></svg>
<svg x="355" y="312" width="146.6" height="146" viewBox="355 312 146.6 146"><g filter="url(#mg)"><rect x="355" y="312" width="146.6" height="146" fill="rgb(6,6,6)"/><use href="#hE0" x="370.1" y="343.8"/><use href="#kE0" x="370.1" y="302.3"/><use href="#hE0" x="425.9" y="302.3"/><use href="#hE0" x="370.1" y="426.8"/><use href="#kE0" x="370.1" y="385.3"/><use href="#hE0" x="425.9" y="385.3"/><use href="#kE0" x="425.9" y="343.8"/><use href="#hE0" x="481.6" y="343.8"/><use href="#kE0" x="481.6" y="302.3"/><use href="#kE0" x="370.1" y="468.3"/><use href="#hE0" x="425.9" y="468.3"/><use href="#kE0" x="425.9" y="426.8"/><use href="#hE0" x="481.6" y="426.8"/><use href="#kE0" x="481.6" y="385.3"/><use href="#kE0" x="481.6" y="468.3"/></g></svg>
<svg x="506" y="312" width="146.8" height="146" viewBox="506 312 146.8 146"><g filter="url(#mg)"><rect x="506" y="312" width="146.8" height="146" fill="rgb(6,6,6)"/><use href="#hE1" x="521.5" y="342.4"/><use href="#kE1" x="521.5" y="300.7"/><use href="#hE1" x="578.1" y="300.7"/><use href="#hE1" x="521.5" y="425.9"/><use href="#kE1" x="521.5" y="384.2"/><use href="#hE1" x="578.1" y="384.2"/><use href="#kE1" x="578.1" y="342.4"/><use href="#hE1" x="634.8" y="342.4"/><use href="#kE1" x="634.8" y="300.7"/><use href="#kE1" x="521.5" y="467.7"/><use href="#hE1" x="578.1" y="467.7"/><use href="#kE1" x="578.1" y="425.9"/><use href="#hE1" x="634.8" y="425.9"/><use href="#kE1" x="634.8" y="384.2"/><use href="#kE1" x="634.8" y="467.7"/></g></svg>
<svg x="656.8" y="312" width="148.2" height="146" viewBox="656.8 312 148.2 146"><g filter="url(#mg)"><rect x="656.8" y="312" width="148.2" height="146" fill="rgb(6,6,6)"/><use href="#hE2" x="670.6" y="342.2"/><use href="#kE2" x="670.6" y="299.1"/><use href="#hE2" x="729.1" y="299.1"/><use href="#hE2" x="670.6" y="428.5"/><use href="#kE2" x="670.6" y="385.4"/><use href="#hE2" x="729.1" y="385.4"/><use href="#kE2" x="729.1" y="342.2"/><use href="#hE2" x="787.6" y="342.2"/><use href="#kE2" x="787.6" y="299.1"/><use href="#kE2" x="670.6" y="471.7"/><use href="#hE2" x="729.1" y="471.7"/><use href="#kE2" x="729.1" y="428.5"/><use href="#hE2" x="787.6" y="428.5"/><use href="#kE2" x="787.6" y="385.4"/><use href="#kE2" x="787.6" y="471.7"/></g></svg>
<svg x="809" y="312" width="147" height="146" viewBox="809 312 147 146"><g filter="url(#mg)"><rect x="809" y="312" width="147" height="146" fill="rgb(6,6,6)"/><use href="#hE3" x="825.7" y="344.8"/><use href="#kE3" x="825.7" y="303.3"/><use href="#hE3" x="882.2" y="303.3"/><use href="#hE3" x="825.7" y="427.9"/><use href="#kE3" x="825.7" y="386.4"/><use href="#hE3" x="882.2" y="386.4"/><use href="#kE3" x="882.2" y="344.8"/><use href="#hE3" x="938.6" y="344.8"/><use href="#kE3" x="938.6" y="303.3"/><use href="#kE3" x="825.7" y="469.5"/><use href="#hE3" x="882.2" y="469.5"/><use href="#kE3" x="882.2" y="427.9"/><use href="#hE3" x="938.6" y="427.9"/><use href="#kE3" x="938.6" y="386.4"/><use href="#kE3" x="938.6" y="469.5"/></g></svg>
<text x="34" y="34.9" font-size="20.5" text-anchor="start" font-weight="bold" fill="#000" >A</text>
<text x="143.3" y="23" font-size="16.4" text-anchor="middle" font-weight="normal" fill="#1a1a1a" >electron probe</text>
<text x="260.5" y="138.6" font-size="16.3" text-anchor="start" font-weight="normal" fill="#1a1a1a" >slice 1</text>
<text x="264.5" y="159" font-size="16.5" text-anchor="start" font-weight="normal" fill="#1a1a1a" letter-spacing="1.6">...</text>
<text x="262.3" y="187.6" font-size="16.4" text-anchor="start" font-weight="normal" fill="#1a1a1a" >slice n</text>
<text x="282.2" y="247.8" font-size="16.2" text-anchor="middle" font-weight="normal" fill="#1a1a1a" >pixelated</text>
<text x="284.8" y="267" font-size="16.2" text-anchor="middle" font-weight="normal" fill="#1a1a1a" >detector</text>
<rect x="22.5" y="122" width="229.5" height="72.5" fill="#f8f8f8"/>
<svg x="22" y="128" width="229" height="62.5" viewBox="22 128 229 62.5">
<path d="M32.8 144.4L48 152.9M32.8 144.4L48 132.6M32.8 144.4L32.8 164.7M32.8 164.7L48 173.2M32.8 164.7L48 152.9M32.8 164.7L32.8 185M32.8 185L48 173.2M48 132.6L63.2 141.1M48 132.6L48 152.9M48 152.9L63.2 161.4M48 152.9L63.2 141.1M48 152.9L48 173.2M48 173.2L63.2 181.7M48 173.2L63.2 161.4M63.2 141.1L78.4 149.6M63.2 141.1L78.4 129.3M63.2 141.1L63.2 161.4M63.2 161.4L78.4 169.9M63.2 161.4L78.4 149.6M63.2 161.4L63.2 181.7M63.2 181.7L78.4 190.2M63.2 181.7L78.4 169.9M78.4 129.3L93.6 137.8M78.4 129.3L78.4 149.6M78.4 149.6L93.6 158.1M78.4 149.6L93.6 137.8M78.4 149.6L78.4 169.9M78.4 169.9L93.6 178.4M78.4 169.9L93.6 158.1M78.4 169.9L78.4 190.2M78.4 190.2L93.6 178.4M93.6 137.8L108.8 146.3M93.6 137.8L108.8 126M93.6 137.8L93.6 158.1M93.6 158.1L108.8 166.6M93.6 158.1L108.8 146.3M93.6 158.1L93.6 178.4M93.6 178.4L108.8 186.9M93.6 178.4L108.8 166.6M108.8 146.3L124 154.8M108.8 146.3L124 134.5M108.8 146.3L108.8 166.6M108.8 166.6L124 175.1M108.8 166.6L124 154.8M108.8 166.6L108.8 186.9M108.8 186.9L124 175.1M124 134.5L139.2 143M124 134.5L124 154.8M124 154.8L139.2 163.3M124 154.8L139.2 143M124 154.8L124 175.1M124 175.1L139.2 183.6M124 175.1L139.2 163.3M139.2 143L154.4 151.5M139.2 143L154.4 131.2M139.2 143L139.2 163.3M139.2 163.3L154.4 171.8M139.2 163.3L154.4 151.5M139.2 163.3L139.2 183.6M139.2 183.6L154.4 171.8M154.4 131.2L169.6 139.7M154.4 131.2L154.4 151.5M154.4 151.5L169.6 160M154.4 151.5L169.6 139.7M154.4 151.5L154.4 171.8M154.4 171.8L169.6 180.3M154.4 171.8L169.6 160M169.6 139.7L184.8 148.2M169.6 139.7L184.8 127.9M169.6 139.7L169.6 160M169.6 160L184.8 168.5M169.6 160L184.8 148.2M169.6 160L169.6 180.3M169.6 180.3L184.8 188.8M169.6 180.3L184.8 168.5M184.8 127.9L200 136.4M184.8 127.9L184.8 148.2M184.8 148.2L200 156.7M184.8 148.2L200 136.4M184.8 148.2L184.8 168.5M184.8 168.5L200 177M184.8 168.5L200 156.7M184.8 168.5L184.8 188.8M184.8 188.8L200 177M200 136.4L215.2 144.9M200 136.4L200 156.7M200 156.7L215.2 165.2M200 156.7L215.2 144.9M200 156.7L200 177M200 177L215.2 185.5M200 177L215.2 165.2M215.2 144.9L230.4 153.4M215.2 144.9L230.4 133.1M215.2 144.9L215.2 165.2M215.2 165.2L230.4 173.7M215.2 165.2L230.4 153.4M215.2 165.2L215.2 185.5M215.2 185.5L230.4 173.7M230.4 133.1L245.6 141.6M230.4 133.1L230.4 153.4M230.4 153.4L245.6 161.9M230.4 153.4L245.6 141.6M230.4 153.4L230.4 173.7M230.4 173.7L245.6 182.2M230.4 173.7L245.6 161.9M245.6 141.6L245.6 161.9M245.6 161.9L245.6 182.2" stroke="#c9c9c9" stroke-width="0.8" fill="none"/>
<g fill="#747474" stroke="#8a8a8a" stroke-width="0.6" filter="url(#bl1)"><polygon points="38.4,147.6 32.8,150.8 27.2,147.6 27.2,141.2 32.8,138 38.4,141.2"/><polygon points="38.4,167.9 32.8,171.1 27.2,167.9 27.2,161.5 32.8,158.3 38.4,161.5"/><polygon points="38.4,188.2 32.8,191.4 27.2,188.2 27.2,181.8 32.8,178.6 38.4,181.8"/><polygon points="53.6,135.8 48,139 42.4,135.8 42.4,129.4 48,126.2 53.6,129.4"/><polygon points="53.6,156.1 48,159.3 42.4,156.1 42.4,149.7 48,146.5 53.6,149.7"/><polygon points="53.6,176.4 48,179.6 42.4,176.4 42.4,170 48,166.8 53.6,170"/><polygon points="68.8,144.3 63.2,147.5 57.6,144.3 57.6,137.9 63.2,134.7 68.8,137.9"/><polygon points="68.8,164.6 63.2,167.8 57.6,164.6 57.6,158.2 63.2,155 68.8,158.2"/><polygon points="68.8,184.9 63.2,188.1 57.6,184.9 57.6,178.5 63.2,175.3 68.8,178.5"/><polygon points="84,132.5 78.4,135.7 72.8,132.5 72.8,126.1 78.4,122.9 84,126.1"/><polygon points="84,152.8 78.4,156 72.8,152.8 72.8,146.4 78.4,143.2 84,146.4"/><polygon points="84,173.1 78.4,176.3 72.8,173.1 72.8,166.7 78.4,163.5 84,166.7"/><polygon points="84,193.4 78.4,196.6 72.8,193.4 72.8,187 78.4,183.8 84,187"/><polygon points="99.2,141 93.6,144.2 88,141 88,134.6 93.6,131.4 99.2,134.6"/><polygon points="99.2,161.3 93.6,164.5 88,161.3 88,154.9 93.6,151.7 99.2,154.9"/><polygon points="99.2,181.6 93.6,184.8 88,181.6 88,175.2 93.6,172 99.2,175.2"/><polygon points="114.4,149.5 108.8,152.7 103.2,149.5 103.2,143.1 108.8,139.9 114.4,143.1"/><polygon points="114.4,169.8 108.8,173 103.2,169.8 103.2,163.4 108.8,160.2 114.4,163.4"/><polygon points="114.4,190.1 108.8,193.3 103.2,190.1 103.2,183.7 108.8,180.5 114.4,183.7"/><polygon points="129.6,137.7 124,140.9 118.4,137.7 118.4,131.3 124,128.1 129.6,131.3"/><polygon points="129.6,158 124,161.2 118.4,158 118.4,151.6 124,148.4 129.6,151.6"/><polygon points="129.6,178.3 124,181.5 118.4,178.3 118.4,171.9 124,168.7 129.6,171.9"/><polygon points="144.8,146.2 139.2,149.4 133.6,146.2 133.6,139.8 139.2,136.6 144.8,139.8"/><polygon points="144.8,166.5 139.2,169.7 133.6,166.5 133.6,160.1 139.2,156.9 144.8,160.1"/><polygon points="144.8,186.8 139.2,190 133.6,186.8 133.6,180.4 139.2,177.2 144.8,180.4"/><polygon points="160,134.4 154.4,137.6 148.8,134.4 148.8,128 154.4,124.8 160,128"/><polygon points="160,154.7 154.4,157.9 148.8,154.7 148.8,148.3 154.4,145.1 160,148.3"/><polygon points="160,175 154.4,178.2 148.8,175 148.8,168.6 154.4,165.4 160,168.6"/><polygon points="175.2,142.9 169.6,146.1 164,142.9 164,136.5 169.6,133.3 175.2,136.5"/><polygon points="175.2,163.2 169.6,166.4 164,163.2 164,156.8 169.6,153.6 175.2,156.8"/><polygon points="175.2,183.5 169.6,186.7 164,183.5 164,177.1 169.6,173.9 175.2,177.1"/><polygon points="190.4,131.1 184.8,134.3 179.2,131.1 179.2,124.7 184.8,121.5 190.4,124.7"/><polygon points="190.4,151.4 184.8,154.6 179.2,151.4 179.2,145 184.8,141.8 190.4,145"/><polygon points="190.4,171.7 184.8,174.9 179.2,171.7 179.2,165.3 184.8,162.1 190.4,165.3"/><polygon points="190.4,192 184.8,195.2 179.2,192 179.2,185.6 184.8,182.4 190.4,185.6"/><polygon points="205.6,139.6 200,142.8 194.4,139.6 194.4,133.2 200,130 205.6,133.2"/><polygon points="205.6,159.9 200,163.1 194.4,159.9 194.4,153.5 200,150.3 205.6,153.5"/><polygon points="205.6,180.2 200,183.4 194.4,180.2 194.4,173.8 200,170.6 205.6,173.8"/><polygon points="220.8,148.1 215.2,151.3 209.6,148.1 209.6,141.7 215.2,138.5 220.8,141.7"/><polygon points="220.8,168.4 215.2,171.6 209.6,168.4 209.6,162 215.2,158.8 220.8,162"/><polygon points="220.8,188.7 215.2,191.9 209.6,188.7 209.6,182.3 215.2,179.1 220.8,182.3"/><polygon points="236,136.3 230.4,139.5 224.8,136.3 224.8,129.9 230.4,126.7 236,129.9"/><polygon points="236,156.6 230.4,159.8 224.8,156.6 224.8,150.2 230.4,147 236,150.2"/><polygon points="236,176.9 230.4,180.1 224.8,176.9 224.8,170.5 230.4,167.3 236,170.5"/><polygon points="251.2,144.8 245.6,148 240,144.8 240,138.4 245.6,135.2 251.2,138.4"/><polygon points="251.2,165.1 245.6,168.3 240,165.1 240,158.7 245.6,155.5 251.2,158.7"/><polygon points="251.2,185.4 245.6,188.6 240,185.4 240,179 245.6,175.8 251.2,179"/></g>
<g fill="#6cc868" opacity="0.85"><circle cx="40.4" cy="142.2" r="1"/><circle cx="26" cy="149.2" r="1"/><circle cx="40.4" cy="162.5" r="1"/><circle cx="26" cy="169.5" r="1"/><circle cx="40.4" cy="182.8" r="1"/><circle cx="26" cy="189.8" r="1"/><circle cx="55.6" cy="130.4" r="1"/><circle cx="41.2" cy="137.4" r="1"/><circle cx="55.6" cy="150.7" r="1"/><circle cx="41.2" cy="157.7" r="1"/><circle cx="55.6" cy="171" r="1"/><circle cx="41.2" cy="178" r="1"/><circle cx="70.8" cy="138.9" r="1"/><circle cx="56.4" cy="145.9" r="1"/><circle cx="70.8" cy="159.2" r="1"/><circle cx="56.4" cy="166.2" r="1"/><circle cx="70.8" cy="179.5" r="1"/><circle cx="56.4" cy="186.5" r="1"/><circle cx="86" cy="127.1" r="1"/><circle cx="71.6" cy="134.1" r="1"/><circle cx="86" cy="147.4" r="1"/><circle cx="71.6" cy="154.4" r="1"/><circle cx="86" cy="167.7" r="1"/><circle cx="71.6" cy="174.7" r="1"/><circle cx="86" cy="188" r="1"/><circle cx="71.6" cy="195" r="1"/><circle cx="101.2" cy="135.6" r="1"/><circle cx="86.8" cy="142.6" r="1"/><circle cx="101.2" cy="155.9" r="1"/><circle cx="86.8" cy="162.9" r="1"/><circle cx="101.2" cy="176.2" r="1"/><circle cx="86.8" cy="183.2" r="1"/><circle cx="116.4" cy="144.1" r="1"/><circle cx="102" cy="151.1" r="1"/><circle cx="116.4" cy="164.4" r="1"/><circle cx="102" cy="171.4" r="1"/><circle cx="116.4" cy="184.7" r="1"/><circle cx="102" cy="191.7" r="1"/><circle cx="131.6" cy="132.3" r="1"/><circle cx="117.2" cy="139.3" r="1"/><circle cx="131.6" cy="152.6" r="1"/><circle cx="117.2" cy="159.6" r="1"/><circle cx="131.6" cy="172.9" r="1"/><circle cx="117.2" cy="179.9" r="1"/><circle cx="146.8" cy="140.8" r="1"/><circle cx="132.4" cy="147.8" r="1"/><circle cx="146.8" cy="161.1" r="1"/><circle cx="132.4" cy="168.1" r="1"/><circle cx="146.8" cy="181.4" r="1"/><circle cx="132.4" cy="188.4" r="1"/><circle cx="162" cy="129" r="1"/><circle cx="147.6" cy="136" r="1"/><circle cx="162" cy="149.3" r="1"/><circle cx="147.6" cy="156.3" r="1"/><circle cx="162" cy="169.6" r="1"/><circle cx="147.6" cy="176.6" r="1"/><circle cx="177.2" cy="137.5" r="1"/><circle cx="162.8" cy="144.5" r="1"/><circle cx="177.2" cy="157.8" r="1"/><circle cx="162.8" cy="164.8" r="1"/><circle cx="177.2" cy="178.1" r="1"/><circle cx="162.8" cy="185.1" r="1"/><circle cx="192.4" cy="125.7" r="1"/><circle cx="178" cy="132.7" r="1"/><circle cx="192.4" cy="146" r="1"/><circle cx="178" cy="153" r="1"/><circle cx="192.4" cy="166.3" r="1"/><circle cx="178" cy="173.3" r="1"/><circle cx="192.4" cy="186.6" r="1"/><circle cx="178" cy="193.6" r="1"/><circle cx="207.6" cy="134.2" r="1"/><circle cx="193.2" cy="141.2" r="1"/><circle cx="207.6" cy="154.5" r="1"/><circle cx="193.2" cy="161.5" r="1"/><circle cx="207.6" cy="174.8" r="1"/><circle cx="193.2" cy="181.8" r="1"/><circle cx="222.8" cy="142.7" r="1"/><circle cx="208.4" cy="149.7" r="1"/><circle cx="222.8" cy="163" r="1"/><circle cx="208.4" cy="170" r="1"/><circle cx="222.8" cy="183.3" r="1"/><circle cx="208.4" cy="190.3" r="1"/><circle cx="238" cy="130.9" r="1"/><circle cx="223.6" cy="137.9" r="1"/><circle cx="238" cy="151.2" r="1"/><circle cx="223.6" cy="158.2" r="1"/><circle cx="238" cy="171.5" r="1"/><circle cx="223.6" cy="178.5" r="1"/><circle cx="253.2" cy="139.4" r="1"/><circle cx="238.8" cy="146.4" r="1"/><circle cx="253.2" cy="159.7" r="1"/><circle cx="238.8" cy="166.7" r="1"/><circle cx="253.2" cy="180" r="1"/><circle cx="238.8" cy="187" r="1"/></g><g fill="#e0913a"><circle cx="33.3" cy="154.5" r="1"/><circle cx="33.3" cy="174.8" r="1"/><circle cx="33.3" cy="195.1" r="1"/><circle cx="48.5" cy="142.7" r="1"/><circle cx="48.5" cy="163" r="1"/><circle cx="48.5" cy="183.3" r="1"/><circle cx="63.7" cy="151.2" r="1"/><circle cx="63.7" cy="171.5" r="1"/><circle cx="63.7" cy="191.8" r="1"/><circle cx="78.9" cy="139.4" r="1"/><circle cx="78.9" cy="159.7" r="1"/><circle cx="78.9" cy="180" r="1"/><circle cx="78.9" cy="200.3" r="1"/><circle cx="94.1" cy="147.9" r="1"/><circle cx="94.1" cy="168.2" r="1"/><circle cx="94.1" cy="188.5" r="1"/><circle cx="109.3" cy="156.4" r="1"/><circle cx="109.3" cy="176.7" r="1"/><circle cx="109.3" cy="197" r="1"/><circle cx="124.5" cy="144.6" r="1"/><circle cx="124.5" cy="164.9" r="1"/><circle cx="124.5" cy="185.2" r="1"/><circle cx="139.7" cy="153.1" r="1"/><circle cx="139.7" cy="173.4" r="1"/><circle cx="139.7" cy="193.7" r="1"/><circle cx="154.9" cy="141.3" r="1"/><circle cx="154.9" cy="161.6" r="1"/><circle cx="154.9" cy="181.9" r="1"/><circle cx="170.1" cy="149.8" r="1"/><circle cx="170.1" cy="170.1" r="1"/><circle cx="170.1" cy="190.4" r="1"/><circle cx="185.3" cy="138" r="1"/><circle cx="185.3" cy="158.3" r="1"/><circle cx="185.3" cy="178.6" r="1"/><circle cx="185.3" cy="198.9" r="1"/><circle cx="200.5" cy="146.5" r="1"/><circle cx="200.5" cy="166.8" r="1"/><circle cx="200.5" cy="187.1" r="1"/><circle cx="215.7" cy="155" r="1"/><circle cx="215.7" cy="175.3" r="1"/><circle cx="215.7" cy="195.6" r="1"/><circle cx="230.9" cy="143.2" r="1"/><circle cx="230.9" cy="163.5" r="1"/><circle cx="230.9" cy="183.8" r="1"/><circle cx="246.1" cy="151.7" r="1"/><circle cx="246.1" cy="172" r="1"/><circle cx="246.1" cy="192.3" r="1"/></g>
</svg>
<polygon points="74.5,230 244.3,230 204.4,298.6 32.7,298.6" fill="#470a60"/>
<path fill-rule="evenodd" fill="#90376f" d="M70.6 264.5a70.3 25 0 1 0 140.6 0a70.3 25 0 1 0 -140.6 0zM87.5 264.2a53 17.6 0 1 0 106 0a53 17.6 0 1 0 -106 0z"/>
<ellipse cx="140.5" cy="264.2" rx="53" ry="17.6" fill="#3b1678"/>
<polygon points="140.2,133 78.2,236 202.2,236" fill="url(#gwide)" filter="url(#bl)"/>
<polygon points="140.2,133 100.2,240 180.2,240" fill="url(#gmid)" filter="url(#bl1)"/>
<polygon points="140.2,133 104.6,264 175.8,264" fill="url(#gyel)" />
<polygon points="140.2,133 131.7,264 148.7,264" fill="url(#gcen)" />
<ellipse cx="140.6" cy="264.5" rx="46" ry="15.6" fill="url(#disc)"/>
<text x="48" y="291.2" font-size="14" text-anchor="start" font-weight="normal" fill="#f3dcf7" >ADF</text>
<polygon points="113.4,41 167,41 140.9,139 139.5,139" fill="url(#cone)"/>
<ellipse cx="140.2" cy="41" rx="27.9" ry="6.7" fill="#fffbb0" stroke="#55533c" stroke-width="1.7" stroke-dasharray="0.3 6.1" stroke-linecap="round"/>
<rect x="22.5" y="122" width="229.5" height="26.4" fill="none" stroke="#e2432a" stroke-width="1.7" stroke-dasharray="2.6 4.9"/>
<rect x="22.5" y="143.2" width="229.5" height="30" fill="none" stroke="#e2432a" stroke-width="1.7" stroke-dasharray="2.6 4.9"/>
<rect x="22.5" y="169.2" width="229.5" height="25.2" fill="none" stroke="#e2432a" stroke-width="1.7" stroke-dasharray="2.6 4.9"/>
<path d="M427.8 197.9L436.9 201.8" stroke="#cc7a1e" stroke-width="1.9"/><path d="M436.9 201.8L446.1 205.7" stroke="#33d238" stroke-width="2"/><path d="M417.3 257.2L426.4 261.2" stroke="#cc7a1e" stroke-width="1.9"/><path d="M426.4 261.2L435.6 265.1" stroke="#33d238" stroke-width="2"/><path d="M406.2 208.2L403.1 227.5" stroke="#cc7a1e" stroke-width="1.9"/><path d="M460.3 235.4L457.2 254.8" stroke="#cc7a1e" stroke-width="1.9"/><path d="M409.9 188.2L413.6 168.2M409.9 188.2L424.6 174.2M409.9 188.2L430 185.5M409.9 188.2L427.8 197.9M409.9 188.2L418.7 206.5M409.9 188.2L406.2 208.2M409.9 188.2L395.2 202.2M409.9 188.2L389.8 190.9M409.9 188.2L401.1 169.9" stroke="#cc7a1e" stroke-width="2.1" fill="none"/><path d="M413.6 168.2L424.6 174.2M424.6 174.2L430 185.5M430 185.5L427.8 197.9M427.8 197.9L418.7 206.5M418.7 206.5L406.2 208.2M406.2 208.2L395.2 202.2M395.2 202.2L389.8 190.9M401.1 169.9L413.6 168.2" stroke="#cc7a1e" stroke-width="2.3" fill="none"/><path d="M424.6 174.2L427.8 197.9M427.8 197.9L406.2 208.2M406.2 208.2L389.8 190.9M389.8 190.9L401.1 169.9M401.1 169.9L424.6 174.2" stroke="#cc7a1e" stroke-width="1.8" fill="none" opacity="1"/><path d="M413.6 168.2L430 185.5M430 185.5L418.7 206.5M418.7 206.5L395.2 202.2" stroke="#cc7a1e" stroke-width="1.3" fill="none" opacity="0.6"/><path d="M392 178.5L401 183.4" stroke="#33d238" stroke-width="2" fill="none"/><path d="M401 183.4L409.9 188.2" stroke="#cc7a1e" stroke-width="1.5" fill="none"/><path d="M392 178.5L396.6 174.2" stroke="#33d238" stroke-width="2" fill="none"/><path d="M396.6 174.2L401.1 169.9" stroke="#cc7a1e" stroke-width="1.5" fill="none"/><path d="M392 178.5L390.9 184.7" stroke="#33d238" stroke-width="2" fill="none"/><path d="M390.9 184.7L389.8 190.9" stroke="#cc7a1e" stroke-width="1.5" fill="none"/><path d="M392 178.5L402.8 173.4" stroke="#33d238" stroke-width="2" fill="none"/><path d="M402.8 173.4L413.6 168.2" stroke="#cc7a1e" stroke-width="1.5" fill="none"/><path d="M392 178.5L393.6 190.4" stroke="#33d238" stroke-width="2" fill="none"/><path d="M393.6 190.4L395.2 202.2" stroke="#cc7a1e" stroke-width="1.5" fill="none"/><circle cx="413.6" cy="168.2" r="3.5" fill="url(#ob)"/><circle cx="424.6" cy="174.2" r="3.5" fill="url(#ob)"/><circle cx="430" cy="185.5" r="3.5" fill="url(#ob)"/><circle cx="427.8" cy="197.9" r="3.5" fill="url(#ob)"/><circle cx="418.7" cy="206.5" r="3.5" fill="url(#ob)"/><circle cx="406.2" cy="208.2" r="3.5" fill="url(#ob)"/><circle cx="395.2" cy="202.2" r="3.5" fill="url(#ob)"/><circle cx="389.8" cy="190.9" r="3.5" fill="url(#ob)"/><circle cx="401.1" cy="169.9" r="3.5" fill="url(#ob)"/><circle cx="409.9" cy="188.2" r="3.7" fill="url(#ob)"/><circle cx="392" cy="178.5" r="3.5" fill="url(#gb)"/><path d="M464 215.4L467.7 195.4M464 215.4L478.7 201.4M464 215.4L484.1 212.7M464 215.4L481.9 225.1M464 215.4L472.8 233.7M464 215.4L460.3 235.4M464 215.4L449.3 229.4M464 215.4L443.9 218.1M464 215.4L455.2 197.1" stroke="#cc7a1e" stroke-width="2.1" fill="none"/><path d="M467.7 195.4L478.7 201.4M478.7 201.4L484.1 212.7M484.1 212.7L481.9 225.1M481.9 225.1L472.8 233.7M472.8 233.7L460.3 235.4M460.3 235.4L449.3 229.4M449.3 229.4L443.9 218.1M455.2 197.1L467.7 195.4" stroke="#cc7a1e" stroke-width="2.3" fill="none"/><path d="M478.7 201.4L481.9 225.1M481.9 225.1L460.3 235.4M460.3 235.4L443.9 218.1M443.9 218.1L455.2 197.1M455.2 197.1L478.7 201.4" stroke="#cc7a1e" stroke-width="1.8" fill="none" opacity="1"/><path d="M467.7 195.4L484.1 212.7M484.1 212.7L472.8 233.7M472.8 233.7L449.3 229.4" stroke="#cc7a1e" stroke-width="1.3" fill="none" opacity="0.6"/><path d="M446.1 205.7L455.1 210.6" stroke="#33d238" stroke-width="2" fill="none"/><path d="M455.1 210.6L464 215.4" stroke="#cc7a1e" stroke-width="1.5" fill="none"/><path d="M446.1 205.7L450.7 201.4" stroke="#33d238" stroke-width="2" fill="none"/><path d="M450.7 201.4L455.2 197.1" stroke="#cc7a1e" stroke-width="1.5" fill="none"/><path d="M446.1 205.7L445 211.9" stroke="#33d238" stroke-width="2" fill="none"/><path d="M445 211.9L443.9 218.1" stroke="#cc7a1e" stroke-width="1.5" fill="none"/><path d="M446.1 205.7L456.9 200.6" stroke="#33d238" stroke-width="2" fill="none"/><path d="M456.9 200.6L467.7 195.4" stroke="#cc7a1e" stroke-width="1.5" fill="none"/><path d="M446.1 205.7L447.7 217.6" stroke="#33d238" stroke-width="2" fill="none"/><path d="M447.7 217.6L449.3 229.4" stroke="#cc7a1e" stroke-width="1.5" fill="none"/><circle cx="467.7" cy="195.4" r="3.5" fill="url(#ob)"/><circle cx="478.7" cy="201.4" r="3.5" fill="url(#ob)"/><circle cx="484.1" cy="212.7" r="3.5" fill="url(#ob)"/><circle cx="481.9" cy="225.1" r="3.5" fill="url(#ob)"/><circle cx="472.8" cy="233.7" r="3.5" fill="url(#ob)"/><circle cx="460.3" cy="235.4" r="3.5" fill="url(#ob)"/><circle cx="449.3" cy="229.4" r="3.5" fill="url(#ob)"/><circle cx="443.9" cy="218.1" r="3.5" fill="url(#ob)"/><circle cx="455.2" cy="197.1" r="3.5" fill="url(#ob)"/><circle cx="464" cy="215.4" r="3.7" fill="url(#ob)"/><circle cx="446.1" cy="205.7" r="3.5" fill="url(#gb)"/><path d="M399.4 247.5L403.1 227.5M399.4 247.5L414.1 233.5M399.4 247.5L419.5 244.8M399.4 247.5L417.3 257.2M399.4 247.5L408.2 265.8M399.4 247.5L395.7 267.5M399.4 247.5L384.7 261.5M399.4 247.5L379.3 250.2M399.4 247.5L390.6 229.2" stroke="#cc7a1e" stroke-width="2.1" fill="none"/><path d="M403.1 227.5L414.1 233.5M414.1 233.5L419.5 244.8M419.5 244.8L417.3 257.2M417.3 257.2L408.2 265.8M408.2 265.8L395.7 267.5M395.7 267.5L384.7 261.5M384.7 261.5L379.3 250.2M390.6 229.2L403.1 227.5" stroke="#cc7a1e" stroke-width="2.3" fill="none"/><path d="M414.1 233.5L417.3 257.2M417.3 257.2L395.7 267.5M395.7 267.5L379.3 250.2M379.3 250.2L390.6 229.2M390.6 229.2L414.1 233.5" stroke="#cc7a1e" stroke-width="1.8" fill="none" opacity="1"/><path d="M403.1 227.5L419.5 244.8M419.5 244.8L408.2 265.8M408.2 265.8L384.7 261.5" stroke="#cc7a1e" stroke-width="1.3" fill="none" opacity="0.6"/><path d="M381.5 237.8L390.5 242.7" stroke="#33d238" stroke-width="2" fill="none"/><path d="M390.5 242.7L399.4 247.5" stroke="#cc7a1e" stroke-width="1.5" fill="none"/><path d="M381.5 237.8L386.1 233.5" stroke="#33d238" stroke-width="2" fill="none"/><path d="M386.1 233.5L390.6 229.2" stroke="#cc7a1e" stroke-width="1.5" fill="none"/><path d="M381.5 237.8L380.4 244" stroke="#33d238" stroke-width="2" fill="none"/><path d="M380.4 244L379.3 250.2" stroke="#cc7a1e" stroke-width="1.5" fill="none"/><path d="M381.5 237.8L392.3 232.7" stroke="#33d238" stroke-width="2" fill="none"/><path d="M392.3 232.7L403.1 227.5" stroke="#cc7a1e" stroke-width="1.5" fill="none"/><path d="M381.5 237.8L383.1 249.7" stroke="#33d238" stroke-width="2" fill="none"/><path d="M383.1 249.7L384.7 261.5" stroke="#cc7a1e" stroke-width="1.5" fill="none"/><circle cx="403.1" cy="227.5" r="3.5" fill="url(#ob)"/><circle cx="414.1" cy="233.5" r="3.5" fill="url(#ob)"/><circle cx="419.5" cy="244.8" r="3.5" fill="url(#ob)"/><circle cx="417.3" cy="257.2" r="3.5" fill="url(#ob)"/><circle cx="408.2" cy="265.8" r="3.5" fill="url(#ob)"/><circle cx="395.7" cy="267.5" r="3.5" fill="url(#ob)"/><circle cx="384.7" cy="261.5" r="3.5" fill="url(#ob)"/><circle cx="379.3" cy="250.2" r="3.5" fill="url(#ob)"/><circle cx="390.6" cy="229.2" r="3.5" fill="url(#ob)"/><circle cx="399.4" cy="247.5" r="3.7" fill="url(#ob)"/><circle cx="381.5" cy="237.8" r="3.5" fill="url(#gb)"/><path d="M453.5 274.8L457.2 254.8M453.5 274.8L468.2 260.8M453.5 274.8L473.6 272.1M453.5 274.8L471.4 284.5M453.5 274.8L462.3 293.1M453.5 274.8L449.8 294.8M453.5 274.8L438.8 288.8M453.5 274.8L433.4 277.5M453.5 274.8L444.7 256.5" stroke="#cc7a1e" stroke-width="2.1" fill="none"/><path d="M457.2 254.8L468.2 260.8M468.2 260.8L473.6 272.1M473.6 272.1L471.4 284.5M471.4 284.5L462.3 293.1M462.3 293.1L449.8 294.8M449.8 294.8L438.8 288.8M438.8 288.8L433.4 277.5M444.7 256.5L457.2 254.8" stroke="#cc7a1e" stroke-width="2.3" fill="none"/><path d="M468.2 260.8L471.4 284.5M471.4 284.5L449.8 294.8M449.8 294.8L433.4 277.5M433.4 277.5L444.7 256.5M444.7 256.5L468.2 260.8" stroke="#cc7a1e" stroke-width="1.8" fill="none" opacity="1"/><path d="M457.2 254.8L473.6 272.1M473.6 272.1L462.3 293.1M462.3 293.1L438.8 288.8" stroke="#cc7a1e" stroke-width="1.3" fill="none" opacity="0.6"/><path d="M435.6 265.1L444.6 270" stroke="#33d238" stroke-width="2" fill="none"/><path d="M444.6 270L453.5 274.8" stroke="#cc7a1e" stroke-width="1.5" fill="none"/><path d="M435.6 265.1L440.2 260.8" stroke="#33d238" stroke-width="2" fill="none"/><path d="M440.2 260.8L444.7 256.5" stroke="#cc7a1e" stroke-width="1.5" fill="none"/><path d="M435.6 265.1L434.5 271.3" stroke="#33d238" stroke-width="2" fill="none"/><path d="M434.5 271.3L433.4 277.5" stroke="#cc7a1e" stroke-width="1.5" fill="none"/><path d="M435.6 265.1L446.4 260" stroke="#33d238" stroke-width="2" fill="none"/><path d="M446.4 260L457.2 254.8" stroke="#cc7a1e" stroke-width="1.5" fill="none"/><path d="M435.6 265.1L437.2 277" stroke="#33d238" stroke-width="2" fill="none"/><path d="M437.2 277L438.8 288.8" stroke="#cc7a1e" stroke-width="1.5" fill="none"/><circle cx="457.2" cy="254.8" r="3.5" fill="url(#ob)"/><circle cx="468.2" cy="260.8" r="3.5" fill="url(#ob)"/><circle cx="473.6" cy="272.1" r="3.5" fill="url(#ob)"/><circle cx="471.4" cy="284.5" r="3.5" fill="url(#ob)"/><circle cx="462.3" cy="293.1" r="3.5" fill="url(#ob)"/><circle cx="449.8" cy="294.8" r="3.5" fill="url(#ob)"/><circle cx="438.8" cy="288.8" r="3.5" fill="url(#ob)"/><circle cx="433.4" cy="277.5" r="3.5" fill="url(#ob)"/><circle cx="444.7" cy="256.5" r="3.5" fill="url(#ob)"/><circle cx="453.5" cy="274.8" r="3.7" fill="url(#ob)"/><circle cx="435.6" cy="265.1" r="3.5" fill="url(#gb)"/><circle cx="426.4" cy="221.1" r="3.4" fill="url(#gb)"/><circle cx="436.9" cy="241.9" r="3.4" fill="url(#gb)"/><circle cx="431.7" cy="231.5" r="3.1" fill="url(#ob)"/>
<path d="M573.7 195.1L582.8 199.2" stroke="#cc7a1e" stroke-width="1.9"/><path d="M582.8 199.2L592 203.3" stroke="#33d238" stroke-width="2"/><path d="M563.2 254.8L572.3 258.9" stroke="#cc7a1e" stroke-width="1.9"/><path d="M572.3 258.9L581.5 262.9" stroke="#33d238" stroke-width="2"/><path d="M552.1 205.4L549 225.1" stroke="#cc7a1e" stroke-width="1.9"/><path d="M606.2 233L603.1 252.6" stroke="#cc7a1e" stroke-width="1.9"/><path d="M555.8 185.4L559.5 165.4M555.8 185.4L570.5 171.4M555.8 185.4L575.9 182.7M555.8 185.4L573.7 195.1M555.8 185.4L564.6 203.7M555.8 185.4L552.1 205.4M555.8 185.4L541.1 199.4M555.8 185.4L535.7 188.1M555.8 185.4L547 167.1" stroke="#cc7a1e" stroke-width="2.1" fill="none"/><path d="M559.5 165.4L570.5 171.4M570.5 171.4L575.9 182.7M575.9 182.7L573.7 195.1M573.7 195.1L564.6 203.7M564.6 203.7L552.1 205.4M552.1 205.4L541.1 199.4M541.1 199.4L535.7 188.1M547 167.1L559.5 165.4" stroke="#cc7a1e" stroke-width="2.3" fill="none"/><path d="M570.5 171.4L573.7 195.1M573.7 195.1L552.1 205.4M552.1 205.4L535.7 188.1M535.7 188.1L547 167.1M547 167.1L570.5 171.4" stroke="#cc7a1e" stroke-width="1.8" fill="none" opacity="1"/><path d="M559.5 165.4L575.9 182.7M575.9 182.7L564.6 203.7M564.6 203.7L541.1 199.4" stroke="#cc7a1e" stroke-width="1.3" fill="none" opacity="0.6"/><path d="M537.9 175.7L546.9 180.6" stroke="#33d238" stroke-width="2" fill="none"/><path d="M546.9 180.6L555.8 185.4" stroke="#cc7a1e" stroke-width="1.5" fill="none"/><path d="M537.9 175.7L542.5 171.4" stroke="#33d238" stroke-width="2" fill="none"/><path d="M542.5 171.4L547 167.1" stroke="#cc7a1e" stroke-width="1.5" fill="none"/><path d="M537.9 175.7L536.8 181.9" stroke="#33d238" stroke-width="2" fill="none"/><path d="M536.8 181.9L535.7 188.1" stroke="#cc7a1e" stroke-width="1.5" fill="none"/><path d="M537.9 175.7L548.7 170.6" stroke="#33d238" stroke-width="2" fill="none"/><path d="M548.7 170.6L559.5 165.4" stroke="#cc7a1e" stroke-width="1.5" fill="none"/><path d="M537.9 175.7L539.5 187.6" stroke="#33d238" stroke-width="2" fill="none"/><path d="M539.5 187.6L541.1 199.4" stroke="#cc7a1e" stroke-width="1.5" fill="none"/><circle cx="559.5" cy="165.4" r="3.5" fill="url(#ob)"/><circle cx="570.5" cy="171.4" r="3.5" fill="url(#ob)"/><circle cx="575.9" cy="182.7" r="3.5" fill="url(#ob)"/><circle cx="573.7" cy="195.1" r="3.5" fill="url(#ob)"/><circle cx="564.6" cy="203.7" r="3.5" fill="url(#ob)"/><circle cx="552.1" cy="205.4" r="3.5" fill="url(#ob)"/><circle cx="541.1" cy="199.4" r="3.5" fill="url(#ob)"/><circle cx="535.7" cy="188.1" r="3.5" fill="url(#ob)"/><circle cx="547" cy="167.1" r="3.5" fill="url(#ob)"/><circle cx="555.8" cy="185.4" r="3.7" fill="url(#ob)"/><circle cx="537.9" cy="175.7" r="3.5" fill="url(#gb)"/><path d="M609.9 213L613.6 193M609.9 213L624.6 199M609.9 213L630 210.3M609.9 213L627.8 222.7M609.9 213L618.7 231.3M609.9 213L606.2 233M609.9 213L595.2 227M609.9 213L589.8 215.7M609.9 213L601.1 194.7" stroke="#cc7a1e" stroke-width="2.1" fill="none"/><path d="M613.6 193L624.6 199M624.6 199L630 210.3M630 210.3L627.8 222.7M627.8 222.7L618.7 231.3M618.7 231.3L606.2 233M606.2 233L595.2 227M595.2 227L589.8 215.7M601.1 194.7L613.6 193" stroke="#cc7a1e" stroke-width="2.3" fill="none"/><path d="M624.6 199L627.8 222.7M627.8 222.7L606.2 233M606.2 233L589.8 215.7M589.8 215.7L601.1 194.7M601.1 194.7L624.6 199" stroke="#cc7a1e" stroke-width="1.8" fill="none" opacity="1"/><path d="M613.6 193L630 210.3M630 210.3L618.7 231.3M618.7 231.3L595.2 227" stroke="#cc7a1e" stroke-width="1.3" fill="none" opacity="0.6"/><path d="M592 203.3L601 208.2" stroke="#33d238" stroke-width="2" fill="none"/><path d="M601 208.2L609.9 213" stroke="#cc7a1e" stroke-width="1.5" fill="none"/><path d="M592 203.3L596.6 199" stroke="#33d238" stroke-width="2" fill="none"/><path d="M596.6 199L601.1 194.7" stroke="#cc7a1e" stroke-width="1.5" fill="none"/><path d="M592 203.3L590.9 209.5" stroke="#33d238" stroke-width="2" fill="none"/><path d="M590.9 209.5L589.8 215.7" stroke="#cc7a1e" stroke-width="1.5" fill="none"/><path d="M592 203.3L602.8 198.2" stroke="#33d238" stroke-width="2" fill="none"/><path d="M602.8 198.2L613.6 193" stroke="#cc7a1e" stroke-width="1.5" fill="none"/><path d="M592 203.3L593.6 215.2" stroke="#33d238" stroke-width="2" fill="none"/><path d="M593.6 215.2L595.2 227" stroke="#cc7a1e" stroke-width="1.5" fill="none"/><circle cx="613.6" cy="193" r="3.5" fill="url(#ob)"/><circle cx="624.6" cy="199" r="3.5" fill="url(#ob)"/><circle cx="630" cy="210.3" r="3.5" fill="url(#ob)"/><circle cx="627.8" cy="222.7" r="3.5" fill="url(#ob)"/><circle cx="618.7" cy="231.3" r="3.5" fill="url(#ob)"/><circle cx="606.2" cy="233" r="3.5" fill="url(#ob)"/><circle cx="595.2" cy="227" r="3.5" fill="url(#ob)"/><circle cx="589.8" cy="215.7" r="3.5" fill="url(#ob)"/><circle cx="601.1" cy="194.7" r="3.5" fill="url(#ob)"/><circle cx="609.9" cy="213" r="3.7" fill="url(#ob)"/><circle cx="592" cy="203.3" r="3.5" fill="url(#gb)"/><path d="M545.3 245.1L549 225.1M545.3 245.1L560 231.1M545.3 245.1L565.4 242.4M545.3 245.1L563.2 254.8M545.3 245.1L554.1 263.4M545.3 245.1L541.6 265.1M545.3 245.1L530.6 259.1M545.3 245.1L525.2 247.8M545.3 245.1L536.5 226.8" stroke="#cc7a1e" stroke-width="2.1" fill="none"/><path d="M549 225.1L560 231.1M560 231.1L565.4 242.4M565.4 242.4L563.2 254.8M563.2 254.8L554.1 263.4M554.1 263.4L541.6 265.1M541.6 265.1L530.6 259.1M530.6 259.1L525.2 247.8M536.5 226.8L549 225.1" stroke="#cc7a1e" stroke-width="2.3" fill="none"/><path d="M560 231.1L563.2 254.8M563.2 254.8L541.6 265.1M541.6 265.1L525.2 247.8M525.2 247.8L536.5 226.8M536.5 226.8L560 231.1" stroke="#cc7a1e" stroke-width="1.8" fill="none" opacity="1"/><path d="M549 225.1L565.4 242.4M565.4 242.4L554.1 263.4M554.1 263.4L530.6 259.1" stroke="#cc7a1e" stroke-width="1.3" fill="none" opacity="0.6"/><path d="M527.4 235.4L536.4 240.3" stroke="#33d238" stroke-width="2" fill="none"/><path d="M536.4 240.3L545.3 245.1" stroke="#cc7a1e" stroke-width="1.5" fill="none"/><path d="M527.4 235.4L532 231.1" stroke="#33d238" stroke-width="2" fill="none"/><path d="M532 231.1L536.5 226.8" stroke="#cc7a1e" stroke-width="1.5" fill="none"/><path d="M527.4 235.4L526.3 241.6" stroke="#33d238" stroke-width="2" fill="none"/><path d="M526.3 241.6L525.2 247.8" stroke="#cc7a1e" stroke-width="1.5" fill="none"/><path d="M527.4 235.4L538.2 230.3" stroke="#33d238" stroke-width="2" fill="none"/><path d="M538.2 230.3L549 225.1" stroke="#cc7a1e" stroke-width="1.5" fill="none"/><path d="M527.4 235.4L529 247.3" stroke="#33d238" stroke-width="2" fill="none"/><path d="M529 247.3L530.6 259.1" stroke="#cc7a1e" stroke-width="1.5" fill="none"/><circle cx="549" cy="225.1" r="3.5" fill="url(#ob)"/><circle cx="560" cy="231.1" r="3.5" fill="url(#ob)"/><circle cx="565.4" cy="242.4" r="3.5" fill="url(#ob)"/><circle cx="563.2" cy="254.8" r="3.5" fill="url(#ob)"/><circle cx="554.1" cy="263.4" r="3.5" fill="url(#ob)"/><circle cx="541.6" cy="265.1" r="3.5" fill="url(#ob)"/><circle cx="530.6" cy="259.1" r="3.5" fill="url(#ob)"/><circle cx="525.2" cy="247.8" r="3.5" fill="url(#ob)"/><circle cx="536.5" cy="226.8" r="3.5" fill="url(#ob)"/><circle cx="545.3" cy="245.1" r="3.7" fill="url(#ob)"/><circle cx="527.4" cy="235.4" r="3.5" fill="url(#gb)"/><path d="M599.4 272.6L603.1 252.6M599.4 272.6L614.1 258.6M599.4 272.6L619.5 269.9M599.4 272.6L617.3 282.3M599.4 272.6L608.2 290.9M599.4 272.6L595.7 292.6M599.4 272.6L584.7 286.6M599.4 272.6L579.3 275.3M599.4 272.6L590.6 254.3" stroke="#cc7a1e" stroke-width="2.1" fill="none"/><path d="M603.1 252.6L614.1 258.6M614.1 258.6L619.5 269.9M619.5 269.9L617.3 282.3M617.3 282.3L608.2 290.9M608.2 290.9L595.7 292.6M595.7 292.6L584.7 286.6M584.7 286.6L579.3 275.3M590.6 254.3L603.1 252.6" stroke="#cc7a1e" stroke-width="2.3" fill="none"/><path d="M614.1 258.6L617.3 282.3M617.3 282.3L595.7 292.6M595.7 292.6L579.3 275.3M579.3 275.3L590.6 254.3M590.6 254.3L614.1 258.6" stroke="#cc7a1e" stroke-width="1.8" fill="none" opacity="1"/><path d="M603.1 252.6L619.5 269.9M619.5 269.9L608.2 290.9M608.2 290.9L584.7 286.6" stroke="#cc7a1e" stroke-width="1.3" fill="none" opacity="0.6"/><path d="M581.5 262.9L590.5 267.8" stroke="#33d238" stroke-width="2" fill="none"/><path d="M590.5 267.8L599.4 272.6" stroke="#cc7a1e" stroke-width="1.5" fill="none"/><path d="M581.5 262.9L586.1 258.6" stroke="#33d238" stroke-width="2" fill="none"/><path d="M586.1 258.6L590.6 254.3" stroke="#cc7a1e" stroke-width="1.5" fill="none"/><path d="M581.5 262.9L580.4 269.1" stroke="#33d238" stroke-width="2" fill="none"/><path d="M580.4 269.1L579.3 275.3" stroke="#cc7a1e" stroke-width="1.5" fill="none"/><path d="M581.5 262.9L592.3 257.8" stroke="#33d238" stroke-width="2" fill="none"/><path d="M592.3 257.8L603.1 252.6" stroke="#cc7a1e" stroke-width="1.5" fill="none"/><path d="M581.5 262.9L583.1 274.8" stroke="#33d238" stroke-width="2" fill="none"/><path d="M583.1 274.8L584.7 286.6" stroke="#cc7a1e" stroke-width="1.5" fill="none"/><circle cx="603.1" cy="252.6" r="3.5" fill="url(#ob)"/><circle cx="614.1" cy="258.6" r="3.5" fill="url(#ob)"/><circle cx="619.5" cy="269.9" r="3.5" fill="url(#ob)"/><circle cx="617.3" cy="282.3" r="3.5" fill="url(#ob)"/><circle cx="608.2" cy="290.9" r="3.5" fill="url(#ob)"/><circle cx="595.7" cy="292.6" r="3.5" fill="url(#ob)"/><circle cx="584.7" cy="286.6" r="3.5" fill="url(#ob)"/><circle cx="579.3" cy="275.3" r="3.5" fill="url(#ob)"/><circle cx="590.6" cy="254.3" r="3.5" fill="url(#ob)"/><circle cx="599.4" cy="272.6" r="3.7" fill="url(#ob)"/><circle cx="581.5" cy="262.9" r="3.5" fill="url(#gb)"/><circle cx="572.3" cy="218.6" r="3.4" fill="url(#gb)"/><circle cx="582.8" cy="239.4" r="3.4" fill="url(#gb)"/>
<path d="M726.6 196.4L744.4 203.8" stroke="#cc7a1e" stroke-width="1.9"/><path d="M716.1 256L734.2 263.9" stroke="#cc7a1e" stroke-width="1.9"/><path d="M705 206.7L701.9 226.3" stroke="#cc7a1e" stroke-width="1.9"/><path d="M758.6 233.5L755.8 253.6" stroke="#cc7a1e" stroke-width="1.9"/><path d="M708.7 186.7L712.4 166.7M708.7 186.7L723.4 172.7M708.7 186.7L728.8 184M708.7 186.7L726.6 196.4M708.7 186.7L717.5 205M708.7 186.7L705 206.7M708.7 186.7L694 200.7M708.7 186.7L688.6 189.4M708.7 186.7L690.8 177M708.7 186.7L699.9 168.4" stroke="#cc7a1e" stroke-width="2.1" fill="none"/><path d="M712.4 166.7L723.4 172.7M723.4 172.7L728.8 184M728.8 184L726.6 196.4M726.6 196.4L717.5 205M717.5 205L705 206.7M705 206.7L694 200.7M694 200.7L688.6 189.4M688.6 189.4L690.8 177M690.8 177L699.9 168.4M699.9 168.4L712.4 166.7" stroke="#cc7a1e" stroke-width="2.3" fill="none"/><path d="M723.4 172.7L726.6 196.4M726.6 196.4L705 206.7M705 206.7L688.6 189.4M688.6 189.4L699.9 168.4M699.9 168.4L723.4 172.7" stroke="#cc7a1e" stroke-width="1.8" fill="none" opacity="1"/><path d="M712.4 166.7L728.8 184M728.8 184L717.5 205M717.5 205L694 200.7M694 200.7L690.8 177M690.8 177L712.4 166.7" stroke="#cc7a1e" stroke-width="1.3" fill="none" opacity="0.6"/><circle cx="712.4" cy="166.7" r="3.5" fill="url(#ob)"/><circle cx="723.4" cy="172.7" r="3.5" fill="url(#ob)"/><circle cx="728.8" cy="184" r="3.5" fill="url(#ob)"/><circle cx="726.6" cy="196.4" r="3.5" fill="url(#ob)"/><circle cx="717.5" cy="205" r="3.5" fill="url(#ob)"/><circle cx="705" cy="206.7" r="3.5" fill="url(#ob)"/><circle cx="694" cy="200.7" r="3.5" fill="url(#ob)"/><circle cx="688.6" cy="189.4" r="3.5" fill="url(#ob)"/><circle cx="690.8" cy="177" r="3.5" fill="url(#ob)"/><circle cx="699.9" cy="168.4" r="3.5" fill="url(#ob)"/><circle cx="708.7" cy="186.7" r="3.7" fill="url(#ob)"/><path d="M762.3 213.5L766 193.5M762.3 213.5L777 199.5M762.3 213.5L782.4 210.8M762.3 213.5L780.2 223.2M762.3 213.5L771.1 231.8M762.3 213.5L758.6 233.5M762.3 213.5L747.6 227.5M762.3 213.5L742.2 216.2M762.3 213.5L744.4 203.8M762.3 213.5L753.5 195.2" stroke="#cc7a1e" stroke-width="2.1" fill="none"/><path d="M766 193.5L777 199.5M777 199.5L782.4 210.8M782.4 210.8L780.2 223.2M780.2 223.2L771.1 231.8M771.1 231.8L758.6 233.5M758.6 233.5L747.6 227.5M747.6 227.5L742.2 216.2M742.2 216.2L744.4 203.8M744.4 203.8L753.5 195.2M753.5 195.2L766 193.5" stroke="#cc7a1e" stroke-width="2.3" fill="none"/><path d="M777 199.5L780.2 223.2M780.2 223.2L758.6 233.5M758.6 233.5L742.2 216.2M742.2 216.2L753.5 195.2M753.5 195.2L777 199.5" stroke="#cc7a1e" stroke-width="1.8" fill="none" opacity="1"/><path d="M766 193.5L782.4 210.8M782.4 210.8L771.1 231.8M771.1 231.8L747.6 227.5M747.6 227.5L744.4 203.8M744.4 203.8L766 193.5" stroke="#cc7a1e" stroke-width="1.3" fill="none" opacity="0.6"/><circle cx="766" cy="193.5" r="3.5" fill="url(#ob)"/><circle cx="777" cy="199.5" r="3.5" fill="url(#ob)"/><circle cx="782.4" cy="210.8" r="3.5" fill="url(#ob)"/><circle cx="780.2" cy="223.2" r="3.5" fill="url(#ob)"/><circle cx="771.1" cy="231.8" r="3.5" fill="url(#ob)"/><circle cx="758.6" cy="233.5" r="3.5" fill="url(#ob)"/><circle cx="747.6" cy="227.5" r="3.5" fill="url(#ob)"/><circle cx="742.2" cy="216.2" r="3.5" fill="url(#ob)"/><circle cx="744.4" cy="203.8" r="3.5" fill="url(#ob)"/><circle cx="753.5" cy="195.2" r="3.5" fill="url(#ob)"/><circle cx="762.3" cy="213.5" r="3.7" fill="url(#ob)"/><path d="M698.2 246.3L701.9 226.3M698.2 246.3L712.9 232.3M698.2 246.3L718.3 243.6M698.2 246.3L716.1 256M698.2 246.3L707 264.6M698.2 246.3L694.5 266.3M698.2 246.3L683.5 260.3M698.2 246.3L678.1 249M698.2 246.3L680.3 236.6M698.2 246.3L689.4 228" stroke="#cc7a1e" stroke-width="2.1" fill="none"/><path d="M701.9 226.3L712.9 232.3M712.9 232.3L718.3 243.6M718.3 243.6L716.1 256M716.1 256L707 264.6M707 264.6L694.5 266.3M694.5 266.3L683.5 260.3M683.5 260.3L678.1 249M678.1 249L680.3 236.6M680.3 236.6L689.4 228M689.4 228L701.9 226.3" stroke="#cc7a1e" stroke-width="2.3" fill="none"/><path d="M712.9 232.3L716.1 256M716.1 256L694.5 266.3M694.5 266.3L678.1 249M678.1 249L689.4 228M689.4 228L712.9 232.3" stroke="#cc7a1e" stroke-width="1.8" fill="none" opacity="1"/><path d="M701.9 226.3L718.3 243.6M718.3 243.6L707 264.6M707 264.6L683.5 260.3M683.5 260.3L680.3 236.6M680.3 236.6L701.9 226.3" stroke="#cc7a1e" stroke-width="1.3" fill="none" opacity="0.6"/><circle cx="701.9" cy="226.3" r="3.5" fill="url(#ob)"/><circle cx="712.9" cy="232.3" r="3.5" fill="url(#ob)"/><circle cx="718.3" cy="243.6" r="3.5" fill="url(#ob)"/><circle cx="716.1" cy="256" r="3.5" fill="url(#ob)"/><circle cx="707" cy="264.6" r="3.5" fill="url(#ob)"/><circle cx="694.5" cy="266.3" r="3.5" fill="url(#ob)"/><circle cx="683.5" cy="260.3" r="3.5" fill="url(#ob)"/><circle cx="678.1" cy="249" r="3.5" fill="url(#ob)"/><circle cx="680.3" cy="236.6" r="3.5" fill="url(#ob)"/><circle cx="689.4" cy="228" r="3.5" fill="url(#ob)"/><circle cx="698.2" cy="246.3" r="3.7" fill="url(#ob)"/><path d="M752.1 273.6L755.8 253.6M752.1 273.6L766.8 259.6M752.1 273.6L772.2 270.9M752.1 273.6L770 283.3M752.1 273.6L760.9 291.9M752.1 273.6L748.4 293.6M752.1 273.6L737.4 287.6M752.1 273.6L732 276.3M752.1 273.6L734.2 263.9M752.1 273.6L743.3 255.3" stroke="#cc7a1e" stroke-width="2.1" fill="none"/><path d="M755.8 253.6L766.8 259.6M766.8 259.6L772.2 270.9M772.2 270.9L770 283.3M770 283.3L760.9 291.9M760.9 291.9L748.4 293.6M748.4 293.6L737.4 287.6M737.4 287.6L732 276.3M732 276.3L734.2 263.9M734.2 263.9L743.3 255.3M743.3 255.3L755.8 253.6" stroke="#cc7a1e" stroke-width="2.3" fill="none"/><path d="M766.8 259.6L770 283.3M770 283.3L748.4 293.6M748.4 293.6L732 276.3M732 276.3L743.3 255.3M743.3 255.3L766.8 259.6" stroke="#cc7a1e" stroke-width="1.8" fill="none" opacity="1"/><path d="M755.8 253.6L772.2 270.9M772.2 270.9L760.9 291.9M760.9 291.9L737.4 287.6M737.4 287.6L734.2 263.9M734.2 263.9L755.8 253.6" stroke="#cc7a1e" stroke-width="1.3" fill="none" opacity="0.6"/><circle cx="755.8" cy="253.6" r="3.5" fill="url(#ob)"/><circle cx="766.8" cy="259.6" r="3.5" fill="url(#ob)"/><circle cx="772.2" cy="270.9" r="3.5" fill="url(#ob)"/><circle cx="770" cy="283.3" r="3.5" fill="url(#ob)"/><circle cx="760.9" cy="291.9" r="3.5" fill="url(#ob)"/><circle cx="748.4" cy="293.6" r="3.5" fill="url(#ob)"/><circle cx="737.4" cy="287.6" r="3.5" fill="url(#ob)"/><circle cx="732" cy="276.3" r="3.5" fill="url(#ob)"/><circle cx="734.2" cy="263.9" r="3.5" fill="url(#ob)"/><circle cx="743.3" cy="255.3" r="3.5" fill="url(#ob)"/><circle cx="752.1" cy="273.6" r="3.7" fill="url(#ob)"/><circle cx="725.1" cy="219.6" r="3.4" fill="url(#gb)"/><circle cx="735.6" cy="240.4" r="3.4" fill="url(#gb)"/><circle cx="730.3" cy="230" r="3.1" fill="url(#ob)"/>
<path d="M880.9 197.1L898.6 205" stroke="#cc7a1e" stroke-width="1.9"/><path d="M870.9 256.8L888.7 264.6" stroke="#cc7a1e" stroke-width="1.9"/><path d="M859.3 207.4L856.7 227.1" stroke="#cc7a1e" stroke-width="1.9"/><path d="M912.8 234.7L910.3 254.3" stroke="#cc7a1e" stroke-width="1.9"/><path d="M863 187.4L866.7 167.4M863 187.4L877.7 173.4M863 187.4L883.1 184.7M863 187.4L880.9 197.1M863 187.4L871.8 205.7M863 187.4L859.3 207.4M863 187.4L848.3 201.4M863 187.4L842.9 190.1M863 187.4L845.1 177.7M863 187.4L854.2 169.1" stroke="#cc7a1e" stroke-width="2.1" fill="none"/><path d="M866.7 167.4L877.7 173.4M877.7 173.4L883.1 184.7M883.1 184.7L880.9 197.1M880.9 197.1L871.8 205.7M871.8 205.7L859.3 207.4M859.3 207.4L848.3 201.4M848.3 201.4L842.9 190.1M842.9 190.1L845.1 177.7M845.1 177.7L854.2 169.1M854.2 169.1L866.7 167.4" stroke="#cc7a1e" stroke-width="2.3" fill="none"/><path d="M877.7 173.4L880.9 197.1M880.9 197.1L859.3 207.4M859.3 207.4L842.9 190.1M842.9 190.1L854.2 169.1M854.2 169.1L877.7 173.4" stroke="#cc7a1e" stroke-width="1.8" fill="none" opacity="1"/><path d="M866.7 167.4L883.1 184.7M883.1 184.7L871.8 205.7M871.8 205.7L848.3 201.4M848.3 201.4L845.1 177.7M845.1 177.7L866.7 167.4" stroke="#cc7a1e" stroke-width="1.3" fill="none" opacity="0.6"/><circle cx="866.7" cy="167.4" r="3.5" fill="url(#ob)"/><circle cx="877.7" cy="173.4" r="3.5" fill="url(#ob)"/><circle cx="883.1" cy="184.7" r="3.5" fill="url(#ob)"/><circle cx="880.9" cy="197.1" r="3.5" fill="url(#ob)"/><circle cx="871.8" cy="205.7" r="3.5" fill="url(#ob)"/><circle cx="859.3" cy="207.4" r="3.5" fill="url(#ob)"/><circle cx="848.3" cy="201.4" r="3.5" fill="url(#ob)"/><circle cx="842.9" cy="190.1" r="3.5" fill="url(#ob)"/><circle cx="845.1" cy="177.7" r="3.5" fill="url(#ob)"/><circle cx="854.2" cy="169.1" r="3.5" fill="url(#ob)"/><circle cx="863" cy="187.4" r="3.7" fill="url(#ob)"/><path d="M916.5 214.7L920.2 194.7M916.5 214.7L931.2 200.7M916.5 214.7L936.6 212M916.5 214.7L934.4 224.4M916.5 214.7L925.3 233M916.5 214.7L912.8 234.7M916.5 214.7L901.8 228.7M916.5 214.7L896.4 217.4M916.5 214.7L898.6 205M916.5 214.7L907.7 196.4" stroke="#cc7a1e" stroke-width="2.1" fill="none"/><path d="M920.2 194.7L931.2 200.7M931.2 200.7L936.6 212M936.6 212L934.4 224.4M934.4 224.4L925.3 233M925.3 233L912.8 234.7M912.8 234.7L901.8 228.7M901.8 228.7L896.4 217.4M896.4 217.4L898.6 205M898.6 205L907.7 196.4M907.7 196.4L920.2 194.7" stroke="#cc7a1e" stroke-width="2.3" fill="none"/><path d="M931.2 200.7L934.4 224.4M934.4 224.4L912.8 234.7M912.8 234.7L896.4 217.4M896.4 217.4L907.7 196.4M907.7 196.4L931.2 200.7" stroke="#cc7a1e" stroke-width="1.8" fill="none" opacity="1"/><path d="M920.2 194.7L936.6 212M936.6 212L925.3 233M925.3 233L901.8 228.7M901.8 228.7L898.6 205M898.6 205L920.2 194.7" stroke="#cc7a1e" stroke-width="1.3" fill="none" opacity="0.6"/><circle cx="920.2" cy="194.7" r="3.5" fill="url(#ob)"/><circle cx="931.2" cy="200.7" r="3.5" fill="url(#ob)"/><circle cx="936.6" cy="212" r="3.5" fill="url(#ob)"/><circle cx="934.4" cy="224.4" r="3.5" fill="url(#ob)"/><circle cx="925.3" cy="233" r="3.5" fill="url(#ob)"/><circle cx="912.8" cy="234.7" r="3.5" fill="url(#ob)"/><circle cx="901.8" cy="228.7" r="3.5" fill="url(#ob)"/><circle cx="896.4" cy="217.4" r="3.5" fill="url(#ob)"/><circle cx="898.6" cy="205" r="3.5" fill="url(#ob)"/><circle cx="907.7" cy="196.4" r="3.5" fill="url(#ob)"/><circle cx="916.5" cy="214.7" r="3.7" fill="url(#ob)"/><path d="M853 247.1L856.7 227.1M853 247.1L867.7 233.1M853 247.1L873.1 244.4M853 247.1L870.9 256.8M853 247.1L861.8 265.4M853 247.1L849.3 267.1M853 247.1L838.3 261.1M853 247.1L832.9 249.8M853 247.1L835.1 237.4M853 247.1L844.2 228.8" stroke="#cc7a1e" stroke-width="2.1" fill="none"/><path d="M856.7 227.1L867.7 233.1M867.7 233.1L873.1 244.4M873.1 244.4L870.9 256.8M870.9 256.8L861.8 265.4M861.8 265.4L849.3 267.1M849.3 267.1L838.3 261.1M838.3 261.1L832.9 249.8M832.9 249.8L835.1 237.4M835.1 237.4L844.2 228.8M844.2 228.8L856.7 227.1" stroke="#cc7a1e" stroke-width="2.3" fill="none"/><path d="M867.7 233.1L870.9 256.8M870.9 256.8L849.3 267.1M849.3 267.1L832.9 249.8M832.9 249.8L844.2 228.8M844.2 228.8L867.7 233.1" stroke="#cc7a1e" stroke-width="1.8" fill="none" opacity="1"/><path d="M856.7 227.1L873.1 244.4M873.1 244.4L861.8 265.4M861.8 265.4L838.3 261.1M838.3 261.1L835.1 237.4M835.1 237.4L856.7 227.1" stroke="#cc7a1e" stroke-width="1.3" fill="none" opacity="0.6"/><circle cx="856.7" cy="227.1" r="3.5" fill="url(#ob)"/><circle cx="867.7" cy="233.1" r="3.5" fill="url(#ob)"/><circle cx="873.1" cy="244.4" r="3.5" fill="url(#ob)"/><circle cx="870.9" cy="256.8" r="3.5" fill="url(#ob)"/><circle cx="861.8" cy="265.4" r="3.5" fill="url(#ob)"/><circle cx="849.3" cy="267.1" r="3.5" fill="url(#ob)"/><circle cx="838.3" cy="261.1" r="3.5" fill="url(#ob)"/><circle cx="832.9" cy="249.8" r="3.5" fill="url(#ob)"/><circle cx="835.1" cy="237.4" r="3.5" fill="url(#ob)"/><circle cx="844.2" cy="228.8" r="3.5" fill="url(#ob)"/><circle cx="853" cy="247.1" r="3.7" fill="url(#ob)"/><path d="M906.6 274.3L910.3 254.3M906.6 274.3L921.3 260.3M906.6 274.3L926.7 271.6M906.6 274.3L924.5 284M906.6 274.3L915.4 292.6M906.6 274.3L902.9 294.3M906.6 274.3L891.9 288.3M906.6 274.3L886.5 277M906.6 274.3L888.7 264.6M906.6 274.3L897.8 256" stroke="#cc7a1e" stroke-width="2.1" fill="none"/><path d="M910.3 254.3L921.3 260.3M921.3 260.3L926.7 271.6M926.7 271.6L924.5 284M924.5 284L915.4 292.6M915.4 292.6L902.9 294.3M902.9 294.3L891.9 288.3M891.9 288.3L886.5 277M886.5 277L888.7 264.6M888.7 264.6L897.8 256M897.8 256L910.3 254.3" stroke="#cc7a1e" stroke-width="2.3" fill="none"/><path d="M921.3 260.3L924.5 284M924.5 284L902.9 294.3M902.9 294.3L886.5 277M886.5 277L897.8 256M897.8 256L921.3 260.3" stroke="#cc7a1e" stroke-width="1.8" fill="none" opacity="1"/><path d="M910.3 254.3L926.7 271.6M926.7 271.6L915.4 292.6M915.4 292.6L891.9 288.3M891.9 288.3L888.7 264.6M888.7 264.6L910.3 254.3" stroke="#cc7a1e" stroke-width="1.3" fill="none" opacity="0.6"/><circle cx="910.3" cy="254.3" r="3.5" fill="url(#ob)"/><circle cx="921.3" cy="260.3" r="3.5" fill="url(#ob)"/><circle cx="926.7" cy="271.6" r="3.5" fill="url(#ob)"/><circle cx="924.5" cy="284" r="3.5" fill="url(#ob)"/><circle cx="915.4" cy="292.6" r="3.5" fill="url(#ob)"/><circle cx="902.9" cy="294.3" r="3.5" fill="url(#ob)"/><circle cx="891.9" cy="288.3" r="3.5" fill="url(#ob)"/><circle cx="886.5" cy="277" r="3.5" fill="url(#ob)"/><circle cx="888.7" cy="264.6" r="3.5" fill="url(#ob)"/><circle cx="897.8" cy="256" r="3.5" fill="url(#ob)"/><circle cx="906.6" cy="274.3" r="3.7" fill="url(#ob)"/><circle cx="879.5" cy="220.5" r="3.4" fill="url(#gb)"/><circle cx="890" cy="241.3" r="3.4" fill="url(#gb)"/>
<text x="365.2" y="176.6" font-size="19.6" text-anchor="start" font-weight="bold" fill="#000" >D</text>
<circle cx="358" cy="277.8" r="4.9" fill="url(#ob)"/>
<circle cx="358" cy="301" r="4.9" fill="url(#gb)"/>
<text x="372.6" y="283.6" font-size="16" text-anchor="start" font-weight="normal" fill="#1a1a1a" >B</text>
<text x="371.3" y="307.1" font-size="16" text-anchor="start" font-weight="normal" fill="#1a1a1a" >C</text>
<path d="M415.2 604.7H424.3V601.1H429.1V593.9H441V560.6H445.7V559.4H457.7V540.3H462.4V532.4H467.2V523.9H479.1V522H491V548.6H495.8V553.4H501.8V559.4H507.7V564.1H514.9V565.3H520.8V561.5H533.9V559.4H549.4V562.5H557.8V560.6H564.9V557H569.7V552.2H574.4V539.1H579.2V532.4H584V528.4H589.9V521.2H594.7V518.9H600.7V539.1H605.4V551H610.2V557H616.1V558.2H625.7V578.4H630.4V598.7H633.5" fill="none" stroke="#f4a06c" stroke-width="2.4" stroke-linejoin="miter"/><path d="M415.2 603H420V599.9H424.3V593.9H428.6V590.4H433.1V589.2H438.1V579.6H442.2V570.1H446.2V565.3H450.5V555.8H455.3V552.2H456.9V526.5H467.2V523.6H472.4V522.4H480.8V533.2H485.3V546.3H490.1V548.6H497.5V566.5H502V568.2H510.1V579.6H515.1V583.2H523.4V586.8H528.2V589.2H533.9V591.5H541.3V589.2H553.2V579.6H556.8V572.5H562.8V567.7H566.3V558.2H569.9V541.5H579.4V534.3H584.2V527.9H589.2V526H594.9V532.4H599.7V539.6H604.5V548.6H609.2V552.7H615.2V565.3H618.8V574.9H622.3V584.4H625.9V592.7H629.5V606.3H633.5" fill="none" stroke="#8b1a1a" stroke-width="2.4" stroke-linejoin="miter"/><rect x="415.6" y="477.4" width="217.9" height="128.9" fill="none" stroke="#3a3a3a" stroke-width="1.3"/><path d="M415.6 606.3V611.1" stroke="#3a3a3a" stroke-width="1.2"/><text x="417.1" y="629" font-size="16.3" text-anchor="middle" font-weight="normal" fill="#1a1a1a" >0</text><path d="M470.1 606.3V611.1" stroke="#3a3a3a" stroke-width="1.2"/><text x="470.1" y="629" font-size="16.3" text-anchor="middle" font-weight="normal" fill="#1a1a1a" >0.8</text><path d="M524.5 606.3V611.1" stroke="#3a3a3a" stroke-width="1.2"/><text x="524.5" y="629" font-size="16.3" text-anchor="middle" font-weight="normal" fill="#1a1a1a" >1.6</text><path d="M579 606.3V611.1" stroke="#3a3a3a" stroke-width="1.2"/><text x="579" y="629" font-size="16.3" text-anchor="middle" font-weight="normal" fill="#1a1a1a" >2.4</text><path d="M633.5 606.3V611.1" stroke="#3a3a3a" stroke-width="1.2"/><text x="631.5" y="629" font-size="16.3" text-anchor="middle" font-weight="normal" fill="#1a1a1a" >3.2</text><text x="532.5" y="647.5" font-size="16.4" text-anchor="middle" font-weight="normal" fill="#1a1a1a" >Distance (Å)</text><text transform="translate(403.1 598.3) rotate(-90)" font-size="16.4" fill="#1a1a1a" xml:space="preserve">Intensity   (a.u.)</text><path d="M468.9 491.2H491.3" stroke="#8b1a1a" stroke-width="2.4"/><path d="M468.9 506.6H491.3" stroke="#f4a06c" stroke-width="2.4"/><text x="498.4" y="496.9" font-size="16.5" text-anchor="start" font-weight="normal" fill="#1a1a1a" >CVC in expt</text><text x="498.4" y="512.3" font-size="16.5" text-anchor="start" font-weight="normal" fill="#1a1a1a" >CBC in expt</text><path d="M492 581L529.4 564.8" stroke="#000" stroke-width="1.7"/><polygon points="533.5,563 525.3,571.7 521.5,563" fill="#000"/><text x="475" y="592.5" font-size="16.3" text-anchor="start" font-weight="normal" fill="#1a1a1a" >B</text><text x="365.6" y="486.9" font-size="20" text-anchor="start" font-weight="bold" fill="#000" >F</text>
<path d="M707.3 602.7H719.5V595.4H731.7V567.4H742.6V534.5H754.8V523.6H767V547.4H777.9V578.4H790.1V589.3H813.2V593H826.6V594.2H847.3V586.4H860.7V557.7H872.9V524.8H885.1V523.1H896.1V551.6H908.2V586.9H918V603.5H929.4" fill="none" stroke="#1c1790" stroke-width="2.4" stroke-linejoin="miter"/><path d="M707.3 603.5H713.4V595.4H726.8V571.1H737.7V535.8H748.7V523.6H764.5V538.2H777.9V568.6H786.5V575.2H797.4V562.5H809.6V546.7H820.6V547.9H832.7V562.5H843.7V572.3H855.9V557.7H866.8V530.9H879V523.6H896.1V527.2H907V558.9H916.8V589.8H927.7" fill="none" stroke="#a8279a" stroke-width="2.4" stroke-linejoin="miter"/><rect x="707.4" y="477.6" width="222.1" height="127.2" fill="none" stroke="#3a3a3a" stroke-width="1.3"/><path d="M707.4 604.8V609.6" stroke="#3a3a3a" stroke-width="1.2"/><text x="708.9" y="629.4" font-size="16.3" text-anchor="middle" font-weight="normal" fill="#1a1a1a" >0</text><path d="M762.9 604.8V609.6" stroke="#3a3a3a" stroke-width="1.2"/><text x="762.9" y="629.4" font-size="16.3" text-anchor="middle" font-weight="normal" fill="#1a1a1a" >0.8</text><path d="M818.5 604.8V609.6" stroke="#3a3a3a" stroke-width="1.2"/><text x="818.5" y="629.4" font-size="16.3" text-anchor="middle" font-weight="normal" fill="#1a1a1a" >1.6</text><path d="M874 604.8V609.6" stroke="#3a3a3a" stroke-width="1.2"/><text x="874" y="629.4" font-size="16.3" text-anchor="middle" font-weight="normal" fill="#1a1a1a" >2.4</text><path d="M929.5 604.8V609.6" stroke="#3a3a3a" stroke-width="1.2"/><text x="927.5" y="629.4" font-size="16.3" text-anchor="middle" font-weight="normal" fill="#1a1a1a" >3.2</text><text x="833.2" y="648.2" font-size="16.4" text-anchor="middle" font-weight="normal" fill="#1a1a1a" >Distance (Å)</text><text transform="translate(692.5 602.2) rotate(-90)" font-size="16.4" fill="#1a1a1a" xml:space="preserve">Intensity   (a.u.)</text><path d="M753.2 490.7H775.4" stroke="#1c1790" stroke-width="2.4"/><path d="M753.2 506.5H775.4" stroke="#a8279a" stroke-width="2.4"/><text x="781.7" y="496.4" font-size="16.5" text-anchor="start" font-weight="normal" fill="#1a1a1a" >CVC in Sim.</text><text x="781.7" y="512.2" font-size="16.5" text-anchor="start" font-weight="normal" fill="#1a1a1a" >CBC in Sim.</text><path d="M767 578.4L809.8 560.9" stroke="#000" stroke-width="1.7"/><polygon points="814.5,558.9 806.1,567.5 802.5,558.7" fill="#000"/><text x="749.7" y="590.8" font-size="16.3" text-anchor="start" font-weight="normal" fill="#1a1a1a" >B</text><text x="667.2" y="487.2" font-size="20" text-anchor="start" font-weight="bold" fill="#000" >G</text>
<rect x="7.05" y="312.55" width="342.7" height="338.5" fill="none" stroke="#06000f" stroke-width="1.1"/>
<text x="21.6" y="340.3" font-size="21" text-anchor="start" font-weight="bold" fill="#fff" >B</text>
<path d="M280 631.6H325.3" stroke="#f3e6ff" stroke-width="2.2"/>
<text x="369.6" y="34" font-size="21" text-anchor="start" font-weight="bold" fill="#fff" >C</text>
<text x="371.5" y="340.5" font-size="20" text-anchor="start" font-weight="bold" fill="#fff" >E</text>
<path d="M403 86.5L416.6 79.2" stroke="#2ee62e" stroke-width="2.6"/><polygon points="422.5,76 415,86.3 409.8,76.6" fill="#2ee62e"/>
<path d="M551.4 90.7L565.2 83.6" stroke="#2ee62e" stroke-width="2.6"/><polygon points="571.1,80.6 563.4,90.7 558.4,81" fill="#2ee62e"/>
<path d="M702.4 91.6L716.2 84.5" stroke="#2ee62e" stroke-width="2.6"/><polygon points="722.1,81.5 714.4,91.6 709.4,81.9" fill="#2ee62e"/>
<path d="M855 93.5L868.7 86.4" stroke="#2ee62e" stroke-width="2.6"/><polygon points="874.6,83.3 866.9,93.5 861.9,83.7" fill="#2ee62e"/>
<path d="M862 386.4H900" stroke="#e8935a" stroke-width="1.9"/><polygon points="910.3,386.4 898.8,392.8 898.8,380" fill="#e8935a"/>
</svg>
</body></html>
